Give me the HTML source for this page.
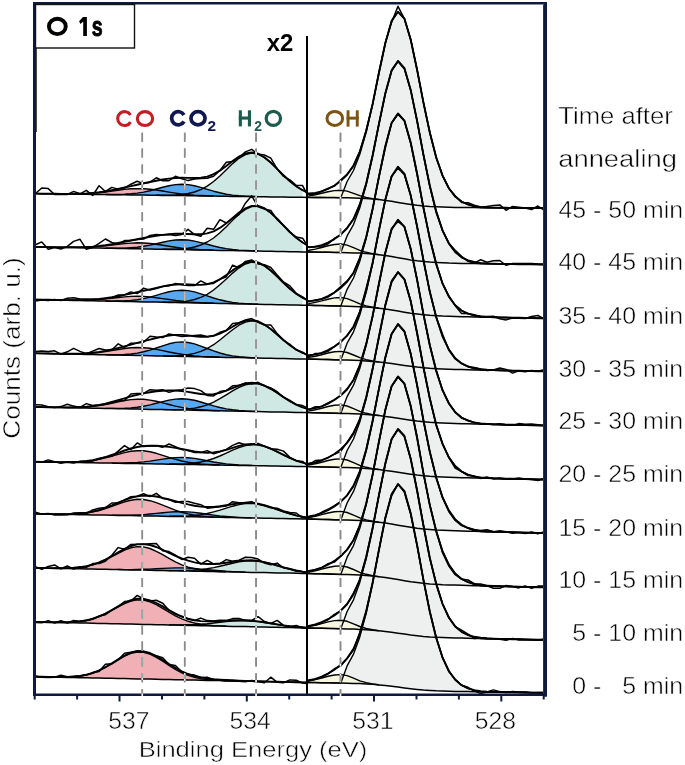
<!DOCTYPE html>
<html><head><meta charset="utf-8"><title>O 1s XPS</title><style>
html,body{margin:0;padding:0;background:#fff;overflow:hidden;width:685px;height:765px;}
svg{display:block;}
text{font-family:"Liberation Sans",sans-serif;}
.c{fill:none;stroke:#000;stroke-width:1.4;stroke-linejoin:round;}
.b{fill:none;stroke:#000;stroke-width:1.5;}
.e{fill:none;stroke:#000;stroke-width:1.9;stroke-linejoin:round;}
.d{fill:none;stroke:#000;stroke-width:1.5;stroke-linejoin:round;}
.tk{stroke:#101a40;stroke-width:2;}
.dash{stroke:#fff;stroke-width:1.5;stroke-dasharray:9 6.9;}
.dash2{stroke:#fff;stroke-width:1.5;stroke-dasharray:9 6.9;}
.big{font-size:26px;font-weight:bold;}
.x2{font-size:23px;font-weight:bold;}
.lab{font-size:22px;font-weight:bold;letter-spacing:2px;}
.sub{font-size:15px;}
.tm{font-size:23px;}
.ax{font-size:23px;}
.thin{stroke:#fff;stroke-width:0.5px;}
</style></head>
<body><svg width="685" height="765" viewBox="0 0 685 765">
<rect width="685" height="765" fill="#fff"/>
<g><path d="M156.3,195.2 162.7,195.3 169.0,195.2 175.4,195.0 181.8,194.5 188.1,193.5 194.5,192.0 200.8,189.6 207.2,186.1 213.6,181.5 219.9,176.0 226.3,169.8 232.6,163.6 239.0,158.3 245.4,154.6 251.7,153.1 258.1,154.2 264.4,157.6 270.8,162.7 277.2,168.9 283.5,175.3 289.9,181.3 296.2,186.3 302.6,190.2 302.6,197.3 296.2,197.2 289.9,197.2 283.5,197.1 277.2,197.0 270.8,196.9 264.4,196.8 258.1,196.7 251.7,196.6 245.4,196.5 239.0,196.4 232.6,196.4 226.3,196.3 219.9,196.2 213.6,196.1 207.2,196.0 200.8,195.9 194.5,195.8 188.1,195.7 181.8,195.6 175.4,195.6 169.0,195.5 162.7,195.4 156.3,195.3Z" fill="#cfe8e4"/><path d="M67.3,193.9 73.6,193.9 80.0,193.8 86.4,193.6 92.7,193.2 99.1,192.7 105.4,192.0 111.8,191.1 118.2,190.3 124.5,189.4 130.9,188.8 137.2,188.6 143.6,188.7 150.0,189.2 156.3,190.0 162.7,191.0 169.0,192.1 175.4,193.1 181.8,194.0 188.1,194.6 194.5,195.2 200.8,195.5 207.2,195.8 213.6,196.0 213.6,196.1 207.2,196.0 200.8,195.9 194.5,195.8 188.1,195.7 181.8,195.6 175.4,195.6 169.0,195.5 162.7,195.4 156.3,195.3 150.0,195.2 143.6,195.1 137.2,195.0 130.9,194.9 124.5,194.8 118.2,194.8 111.8,194.7 105.4,194.6 99.1,194.5 92.7,194.4 86.4,194.3 80.0,194.2 73.6,194.1 67.3,194.0Z" fill="#f0b0b5"/><path d="M105.4,194.5 111.8,194.5 118.2,194.5 124.5,194.3 130.9,193.8 137.2,193.1 143.6,192.1 150.0,190.7 156.3,189.0 162.7,187.3 169.0,185.7 175.4,184.6 181.8,184.2 188.1,184.6 194.5,185.7 200.8,187.4 207.2,189.3 213.6,191.2 219.9,192.8 226.3,194.2 232.6,195.1 239.0,195.8 245.4,196.2 251.7,196.5 258.1,196.6 258.1,196.7 251.7,196.6 245.4,196.5 239.0,196.4 232.6,196.4 226.3,196.3 219.9,196.2 213.6,196.1 207.2,196.0 200.8,195.9 194.5,195.8 188.1,195.7 181.8,195.6 175.4,195.6 169.0,195.5 162.7,195.4 156.3,195.3 150.0,195.2 143.6,195.1 137.2,195.0 130.9,194.9 124.5,194.8 118.2,194.8 111.8,194.7 105.4,194.6Z" fill="#58a8f0"/><path d="M307.0,197.4 309.0,197.4 315.3,197.5 321.7,197.5 328.0,197.6 334.4,197.6 340.8,197.7 347.1,181.5 353.5,170.5 359.8,154.3 366.2,132.0 372.6,104.2 378.9,73.1 385.3,43.3 391.6,20.9 398.0,11.8 404.4,18.6 410.7,39.7 417.1,69.7 423.4,102.4 429.8,132.5 436.2,157.2 442.5,175.6 448.9,188.3 455.2,196.6 461.6,201.6 468.0,204.5 474.3,206.4 480.7,207.6 487.0,207.7 493.4,207.8 499.8,207.8 506.1,207.8 512.5,207.9 518.8,207.9 525.2,208.0 531.6,208.0 537.9,208.1 544.0,208.1 544.0,208.1 537.9,208.1 531.6,208.0 525.2,208.0 518.8,207.9 512.5,207.9 506.1,207.8 499.8,207.8 493.4,207.8 487.0,207.7 480.7,207.7 474.3,207.6 468.0,207.6 461.6,207.5 455.2,207.4 448.9,207.3 442.5,207.1 436.2,206.8 429.8,206.5 423.4,206.0 417.1,205.3 410.7,204.4 404.4,203.4 398.0,202.4 391.6,201.3 385.3,200.4 378.9,199.6 372.6,199.0 366.2,198.5 359.8,198.2 353.5,198.0 347.1,197.8 340.8,197.7 334.4,197.6 328.0,197.6 321.7,197.5 315.3,197.5 309.0,197.4 307.0,197.4Z" fill="#eef0f0"/><path d="M307.0,196.2 309.0,195.9 315.3,194.8 321.7,193.3 328.0,191.8 334.4,190.6 340.8,190.2 347.1,191.1 353.5,193.3 359.8,195.7 366.2,197.5 372.6,198.6 378.9,199.5 378.9,199.6 372.6,199.0 366.2,198.5 359.8,198.2 353.5,198.0 347.1,197.8 340.8,197.7 334.4,197.6 328.0,197.6 321.7,197.5 315.3,197.5 309.0,197.4 307.0,197.4Z" fill="#f7f7e2"/><path d="M162.7,249.2 169.0,249.2 175.4,249.1 181.8,248.8 188.1,248.1 194.5,247.0 200.8,245.0 207.2,242.0 213.6,238.0 219.9,232.8 226.3,226.7 232.6,220.2 239.0,214.2 245.4,209.4 251.7,206.6 258.1,206.2 264.4,208.5 270.8,212.9 277.2,218.9 283.5,225.5 289.9,232.0 296.2,237.8 302.6,242.5 302.6,251.9 296.2,251.8 289.9,251.7 283.5,251.6 277.2,251.4 270.8,251.3 264.4,251.2 258.1,251.1 251.7,251.0 245.4,250.8 239.0,250.7 232.6,250.6 226.3,250.5 219.9,250.4 213.6,250.2 207.2,250.1 200.8,250.0 194.5,249.9 188.1,249.8 181.8,249.6 175.4,249.5 169.0,249.4 162.7,249.3Z" fill="#cfe8e4"/><path d="M67.3,247.4 73.6,247.4 80.0,247.4 86.4,247.2 92.7,246.9 99.1,246.4 105.4,245.8 111.8,245.1 118.2,244.3 124.5,243.6 130.9,243.1 137.2,242.8 143.6,243.0 150.0,243.5 156.3,244.3 162.7,245.3 169.0,246.3 175.4,247.2 181.8,248.1 188.1,248.8 194.5,249.3 200.8,249.7 207.2,249.9 213.6,250.2 213.6,250.2 207.2,250.1 200.8,250.0 194.5,249.9 188.1,249.8 181.8,249.6 175.4,249.5 169.0,249.4 162.7,249.3 156.3,249.2 150.0,249.1 143.6,248.9 137.2,248.8 130.9,248.7 124.5,248.6 118.2,248.5 111.8,248.3 105.4,248.2 99.1,248.1 92.7,248.0 86.4,247.9 80.0,247.7 73.6,247.6 67.3,247.5Z" fill="#f0b0b5"/><path d="M105.4,248.2 111.8,248.2 118.2,248.2 124.5,248.1 130.9,247.7 137.2,247.2 143.6,246.3 150.0,245.1 156.3,243.7 162.7,242.2 169.0,240.9 175.4,240.0 181.8,239.7 188.1,240.0 194.5,241.1 200.8,242.6 207.2,244.3 213.6,246.0 219.9,247.5 226.3,248.6 232.6,249.5 239.0,250.1 245.4,250.5 251.7,250.8 258.1,251.0 258.1,251.1 251.7,251.0 245.4,250.8 239.0,250.7 232.6,250.6 226.3,250.5 219.9,250.4 213.6,250.2 207.2,250.1 200.8,250.0 194.5,249.9 188.1,249.8 181.8,249.6 175.4,249.5 169.0,249.4 162.7,249.3 156.3,249.2 150.0,249.1 143.6,248.9 137.2,248.8 130.9,248.7 124.5,248.6 118.2,248.5 111.8,248.3 105.4,248.2Z" fill="#58a8f0"/><path d="M307.0,252.0 309.0,252.0 315.3,252.1 321.7,252.2 328.0,252.3 334.4,252.4 340.8,252.5 347.1,235.9 353.5,224.6 359.8,207.8 366.2,184.9 372.6,156.2 378.9,124.2 385.3,93.4 391.6,70.4 398.0,61.0 404.4,68.1 410.7,89.9 417.1,120.9 423.4,154.7 429.8,185.8 436.2,211.3 442.5,230.3 448.9,243.5 455.2,252.0 461.6,257.3 468.0,260.3 474.3,262.3 480.7,263.6 487.0,263.7 493.4,263.8 499.8,263.9 506.1,264.0 512.5,264.1 518.8,264.2 525.2,264.3 531.6,264.3 537.9,264.4 544.0,264.5 544.0,264.5 537.9,264.4 531.6,264.3 525.2,264.3 518.8,264.2 512.5,264.1 506.1,264.0 499.8,263.9 493.4,263.8 487.0,263.7 480.7,263.7 474.3,263.6 468.0,263.5 461.6,263.4 455.2,263.2 448.9,263.1 442.5,262.8 436.2,262.5 429.8,262.1 423.4,261.5 417.1,260.8 410.7,259.9 404.4,258.8 398.0,257.7 391.6,256.6 385.3,255.6 378.9,254.7 372.6,254.0 366.2,253.5 359.8,253.1 353.5,252.9 347.1,252.7 340.8,252.5 334.4,252.4 328.0,252.3 321.7,252.2 315.3,252.1 309.0,252.0 307.0,252.0Z" fill="#eef0f0"/><path d="M307.0,250.6 309.0,250.3 315.3,249.1 321.7,247.5 328.0,245.8 334.4,244.5 340.8,244.0 347.1,245.1 353.5,247.6 359.8,250.3 366.2,252.3 372.6,253.6 378.9,254.6 378.9,254.7 372.6,254.0 366.2,253.5 359.8,253.1 353.5,252.9 347.1,252.7 340.8,252.5 334.4,252.4 328.0,252.3 321.7,252.2 315.3,252.1 309.0,252.0 307.0,252.0Z" fill="#f7f7e2"/><path d="M162.7,302.2 169.0,302.2 175.4,302.0 181.8,301.6 188.1,300.9 194.5,299.5 200.8,297.4 207.2,294.3 213.6,290.0 219.9,284.8 226.3,279.0 232.6,273.1 239.0,267.8 245.4,264.0 251.7,262.2 258.1,262.9 264.4,265.9 270.8,270.7 277.2,276.6 283.5,282.9 289.9,288.8 296.2,293.8 302.6,297.8 302.6,305.2 296.2,305.1 289.9,304.9 283.5,304.8 277.2,304.7 270.8,304.5 264.4,304.4 258.1,304.3 251.7,304.1 245.4,304.0 239.0,303.9 232.6,303.7 226.3,303.6 219.9,303.5 213.6,303.3 207.2,303.2 200.8,303.1 194.5,302.9 188.1,302.8 181.8,302.7 175.4,302.5 169.0,302.4 162.7,302.3Z" fill="#cfe8e4"/><path d="M67.3,300.2 73.6,300.2 80.0,300.2 86.4,300.1 92.7,299.8 99.1,299.4 105.4,298.9 111.8,298.2 118.2,297.5 124.5,296.9 130.9,296.4 137.2,296.3 143.6,296.4 150.0,296.9 156.3,297.7 162.7,298.6 169.0,299.5 175.4,300.4 181.8,301.2 188.1,301.9 194.5,302.4 200.8,302.8 207.2,303.0 213.6,303.3 213.6,303.3 207.2,303.2 200.8,303.1 194.5,302.9 188.1,302.8 181.8,302.7 175.4,302.5 169.0,302.4 162.7,302.3 156.3,302.1 150.0,302.0 143.6,301.9 137.2,301.7 130.9,301.6 124.5,301.5 118.2,301.3 111.8,301.2 105.4,301.1 99.1,300.9 92.7,300.8 86.4,300.7 80.0,300.5 73.6,300.4 67.3,300.3Z" fill="#f0b0b5"/><path d="M105.4,301.0 111.8,301.1 118.2,301.0 124.5,300.8 130.9,300.4 137.2,299.7 143.6,298.6 150.0,297.1 156.3,295.3 162.7,293.4 169.0,291.8 175.4,290.6 181.8,290.2 188.1,290.6 194.5,291.9 200.8,293.8 207.2,295.9 213.6,298.0 219.9,299.8 226.3,301.3 232.6,302.4 239.0,303.1 245.4,303.6 251.7,304.0 258.1,304.2 258.1,304.3 251.7,304.1 245.4,304.0 239.0,303.9 232.6,303.7 226.3,303.6 219.9,303.5 213.6,303.3 207.2,303.2 200.8,303.1 194.5,302.9 188.1,302.8 181.8,302.7 175.4,302.5 169.0,302.4 162.7,302.3 156.3,302.1 150.0,302.0 143.6,301.9 137.2,301.7 130.9,301.6 124.5,301.5 118.2,301.3 111.8,301.2 105.4,301.1Z" fill="#58a8f0"/><path d="M307.0,305.3 309.0,305.3 315.3,305.5 321.7,305.6 328.0,305.7 334.4,305.9 340.8,306.0 347.1,289.3 353.5,278.0 359.8,261.2 366.2,238.2 372.6,209.4 378.9,177.1 385.3,146.2 391.6,123.0 398.0,113.5 404.4,120.6 410.7,142.4 417.1,173.5 423.4,207.4 429.8,238.6 436.2,264.3 442.5,283.4 448.9,296.7 455.2,305.3 461.6,310.6 468.0,313.6 474.3,315.7 480.7,317.1 487.0,317.2 493.4,317.3 499.8,317.5 506.1,317.6 512.5,317.7 518.8,317.8 525.2,317.9 531.6,318.1 537.9,318.2 544.0,318.3 544.0,318.3 537.9,318.2 531.6,318.1 525.2,317.9 518.8,317.8 512.5,317.7 506.1,317.6 499.8,317.5 493.4,317.3 487.0,317.2 480.7,317.1 474.3,317.0 468.0,316.8 461.6,316.7 455.2,316.5 448.9,316.3 442.5,316.1 436.2,315.7 429.8,315.3 423.4,314.7 417.1,314.0 410.7,313.2 404.4,312.2 398.0,311.1 391.6,310.1 385.3,309.1 378.9,308.3 372.6,307.6 366.2,307.1 359.8,306.7 353.5,306.4 347.1,306.2 340.8,306.0 334.4,305.9 328.0,305.7 321.7,305.6 315.3,305.5 309.0,305.3 307.0,305.3Z" fill="#eef0f0"/><path d="M307.0,303.9 309.0,303.6 315.3,302.4 321.7,300.9 328.0,299.2 334.4,297.9 340.8,297.5 347.1,298.6 353.5,301.2 359.8,303.9 366.2,305.9 372.6,307.2 378.9,308.2 378.9,308.3 372.6,307.6 366.2,307.1 359.8,306.7 353.5,306.4 347.1,306.2 340.8,306.0 334.4,305.9 328.0,305.7 321.7,305.6 315.3,305.5 309.0,305.3 307.0,305.3Z" fill="#f7f7e2"/><path d="M162.7,355.9 169.0,355.9 175.4,355.8 181.8,355.4 188.1,354.7 194.5,353.4 200.8,351.4 207.2,348.5 213.6,344.7 219.9,340.0 226.3,334.8 232.6,329.7 239.0,325.2 245.4,322.1 251.7,320.9 258.1,321.9 264.4,324.8 270.8,329.3 277.2,334.6 283.5,340.1 289.9,345.2 296.2,349.6 302.6,353.0 302.6,359.0 296.2,358.9 289.9,358.7 283.5,358.6 277.2,358.5 270.8,358.3 264.4,358.2 258.1,358.1 251.7,357.9 245.4,357.8 239.0,357.6 232.6,357.5 226.3,357.4 219.9,357.2 213.6,357.1 207.2,357.0 200.8,356.8 194.5,356.7 188.1,356.6 181.8,356.4 175.4,356.3 169.0,356.2 162.7,356.0Z" fill="#cfe8e4"/><path d="M60.9,353.8 67.3,353.8 73.6,353.8 80.0,353.8 86.4,353.5 92.7,353.1 99.1,352.5 105.4,351.6 111.8,350.6 118.2,349.5 124.5,348.5 130.9,347.8 137.2,347.5 143.6,347.7 150.0,348.3 156.3,349.4 162.7,350.6 169.0,352.0 175.4,353.2 181.8,354.3 188.1,355.2 194.5,355.9 200.8,356.4 207.2,356.7 213.6,357.0 219.9,357.2 219.9,357.2 213.6,357.1 207.2,357.0 200.8,356.8 194.5,356.7 188.1,356.6 181.8,356.4 175.4,356.3 169.0,356.2 162.7,356.0 156.3,355.9 150.0,355.7 143.6,355.6 137.2,355.5 130.9,355.3 124.5,355.2 118.2,355.1 111.8,354.9 105.4,354.8 99.1,354.7 92.7,354.5 86.4,354.4 80.0,354.3 73.6,354.1 67.3,354.0 60.9,353.8Z" fill="#f0b0b5"/><path d="M105.4,354.7 111.8,354.8 118.2,354.7 124.5,354.5 130.9,354.0 137.2,353.1 143.6,351.8 150.0,350.1 156.3,348.0 162.7,345.8 169.0,343.8 175.4,342.4 181.8,341.9 188.1,342.5 194.5,343.9 200.8,346.1 207.2,348.5 213.6,350.9 219.9,353.0 226.3,354.7 232.6,355.9 239.0,356.8 245.4,357.3 251.7,357.7 258.1,358.0 258.1,358.1 251.7,357.9 245.4,357.8 239.0,357.6 232.6,357.5 226.3,357.4 219.9,357.2 213.6,357.1 207.2,357.0 200.8,356.8 194.5,356.7 188.1,356.6 181.8,356.4 175.4,356.3 169.0,356.2 162.7,356.0 156.3,355.9 150.0,355.7 143.6,355.6 137.2,355.5 130.9,355.3 124.5,355.2 118.2,355.1 111.8,354.9 105.4,354.8Z" fill="#58a8f0"/><path d="M307.0,359.1 309.0,359.1 315.3,359.3 321.7,359.4 328.0,359.5 334.4,359.7 340.8,359.9 347.1,343.2 353.5,331.8 359.8,315.0 366.2,292.0 372.6,263.1 378.9,230.8 385.3,199.8 391.6,176.5 398.0,166.8 404.4,173.8 410.7,195.5 417.1,226.5 423.4,260.3 429.8,291.6 436.2,317.1 442.5,336.3 448.9,349.5 455.2,358.2 461.6,363.4 468.0,366.5 474.3,368.6 480.7,370.0 487.0,370.1 493.4,370.3 499.8,370.4 506.1,370.5 512.5,370.7 518.8,370.8 525.2,370.9 531.6,371.0 537.9,371.2 544.0,371.3 544.0,371.3 537.9,371.2 531.6,371.0 525.2,370.9 518.8,370.8 512.5,370.7 506.1,370.5 499.8,370.4 493.4,370.3 487.0,370.1 480.7,370.0 474.3,369.9 468.0,369.7 461.6,369.6 455.2,369.4 448.9,369.2 442.5,369.0 436.2,368.7 429.8,368.3 423.4,367.7 417.1,367.1 410.7,366.3 404.4,365.4 398.0,364.5 391.6,363.6 385.3,362.7 378.9,362.0 372.6,361.4 366.2,360.9 359.8,360.5 353.5,360.3 347.1,360.0 340.8,359.9 334.4,359.7 328.0,359.5 321.7,359.4 315.3,359.3 309.0,359.1 307.0,359.1Z" fill="#eef0f0"/><path d="M307.0,357.7 309.0,357.4 315.3,356.3 321.7,354.7 328.0,353.0 334.4,351.8 340.8,351.4 347.1,352.5 353.5,355.0 359.8,357.7 366.2,359.7 372.6,361.0 378.9,361.9 378.9,362.0 372.6,361.4 366.2,360.9 359.8,360.5 353.5,360.3 347.1,360.0 340.8,359.9 334.4,359.7 328.0,359.5 321.7,359.4 315.3,359.3 309.0,359.1 307.0,359.1Z" fill="#f7f7e2"/><path d="M162.7,409.6 169.0,409.6 175.4,409.6 181.8,409.4 188.1,408.9 194.5,408.1 200.8,406.8 207.2,404.8 213.6,402.1 219.9,398.7 226.3,394.8 232.6,390.9 239.0,387.4 245.4,384.8 251.7,383.6 258.1,383.9 264.4,385.8 270.8,389.0 277.2,393.0 283.5,397.2 289.9,401.2 296.2,404.6 302.6,407.4 302.6,412.5 296.2,412.4 289.9,412.2 283.5,412.1 277.2,412.0 270.8,411.9 264.4,411.7 258.1,411.6 251.7,411.5 245.4,411.3 239.0,411.2 232.6,411.1 226.3,410.9 219.9,410.8 213.6,410.7 207.2,410.5 200.8,410.4 194.5,410.3 188.1,410.1 181.8,410.0 175.4,409.9 169.0,409.8 162.7,409.6Z" fill="#cfe8e4"/><path d="M60.9,407.4 67.3,407.5 73.6,407.5 80.0,407.3 86.4,407.0 92.7,406.4 99.1,405.6 105.4,404.5 111.8,403.2 118.2,401.8 124.5,400.5 130.9,399.6 137.2,399.2 143.6,399.3 150.0,400.1 156.3,401.3 162.7,402.9 169.0,404.5 175.4,406.1 181.8,407.4 188.1,408.5 194.5,409.3 200.8,409.8 207.2,410.2 213.6,410.5 219.9,410.7 219.9,410.8 213.6,410.7 207.2,410.5 200.8,410.4 194.5,410.3 188.1,410.1 181.8,410.0 175.4,409.9 169.0,409.8 162.7,409.6 156.3,409.5 150.0,409.4 143.6,409.2 137.2,409.1 130.9,409.0 124.5,408.8 118.2,408.7 111.8,408.6 105.4,408.4 99.1,408.3 92.7,408.2 86.4,408.0 80.0,407.9 73.6,407.8 67.3,407.7 60.9,407.5Z" fill="#f0b0b5"/><path d="M105.4,408.4 111.8,408.4 118.2,408.4 124.5,408.3 130.9,407.9 137.2,407.3 143.6,406.3 150.0,404.9 156.3,403.3 162.7,401.6 169.0,400.1 175.4,399.1 181.8,398.7 188.1,399.2 194.5,400.3 200.8,402.0 207.2,404.0 213.6,405.9 219.9,407.5 226.3,408.9 232.6,409.8 239.0,410.5 245.4,411.0 251.7,411.3 258.1,411.5 258.1,411.6 251.7,411.5 245.4,411.3 239.0,411.2 232.6,411.1 226.3,410.9 219.9,410.8 213.6,410.7 207.2,410.5 200.8,410.4 194.5,410.3 188.1,410.1 181.8,410.0 175.4,409.9 169.0,409.8 162.7,409.6 156.3,409.5 150.0,409.4 143.6,409.2 137.2,409.1 130.9,409.0 124.5,408.8 118.2,408.7 111.8,408.6 105.4,408.4Z" fill="#58a8f0"/><path d="M307.0,412.6 309.0,412.6 315.3,412.8 321.7,412.9 328.0,413.1 334.4,413.2 340.8,413.4 347.1,396.6 353.5,385.2 359.8,368.4 366.2,345.3 372.6,316.3 378.9,283.9 385.3,252.8 391.6,229.4 398.0,219.8 404.4,226.8 410.7,248.7 417.1,279.9 423.4,313.9 429.8,345.3 436.2,371.0 442.5,390.2 448.9,403.5 455.2,412.2 461.6,417.5 468.0,420.6 474.3,422.7 480.7,424.1 487.0,424.3 493.4,424.4 499.8,424.5 506.1,424.7 512.5,424.8 518.8,425.0 525.2,425.1 531.6,425.2 537.9,425.4 544.0,425.5 544.0,425.5 537.9,425.4 531.6,425.2 525.2,425.1 518.8,425.0 512.5,424.8 506.1,424.7 499.8,424.5 493.4,424.4 487.0,424.3 480.7,424.1 474.3,424.0 468.0,423.8 461.6,423.7 455.2,423.5 448.9,423.3 442.5,423.0 436.2,422.7 429.8,422.3 423.4,421.7 417.1,421.1 410.7,420.2 404.4,419.3 398.0,418.3 391.6,417.3 385.3,416.4 378.9,415.6 372.6,415.0 366.2,414.5 359.8,414.1 353.5,413.8 347.1,413.6 340.8,413.4 334.4,413.2 328.0,413.1 321.7,412.9 315.3,412.8 309.0,412.6 307.0,412.6Z" fill="#eef0f0"/><path d="M307.0,411.2 309.0,410.9 315.3,409.8 321.7,408.2 328.0,406.5 334.4,405.3 340.8,404.9 347.1,406.0 353.5,408.6 359.8,411.3 366.2,413.3 372.6,414.6 378.9,415.5 378.9,415.6 372.6,415.0 366.2,414.5 359.8,414.1 353.5,413.8 347.1,413.6 340.8,413.4 334.4,413.2 328.0,413.1 321.7,412.9 315.3,412.8 309.0,412.6 307.0,412.6Z" fill="#f7f7e2"/><path d="M169.0,464.0 175.4,464.0 181.8,463.9 188.1,463.6 194.5,463.0 200.8,462.0 207.2,460.5 213.6,458.5 219.9,456.0 226.3,453.1 232.6,450.2 239.0,447.5 245.4,445.6 251.7,444.7 258.1,445.0 264.4,446.4 270.8,448.8 277.2,451.8 283.5,455.0 289.9,458.0 296.2,460.6 302.6,462.7 302.6,466.5 296.2,466.4 289.9,466.3 283.5,466.2 277.2,466.1 270.8,466.0 264.4,465.8 258.1,465.7 251.7,465.6 245.4,465.5 239.0,465.4 232.6,465.3 226.3,465.2 219.9,465.1 213.6,464.9 207.2,464.8 200.8,464.7 194.5,464.6 188.1,464.5 181.8,464.4 175.4,464.3 169.0,464.2Z" fill="#cfe8e4"/><path d="M60.9,462.1 67.3,462.1 73.6,462.0 80.0,461.8 86.4,461.3 92.7,460.5 99.1,459.3 105.4,457.9 111.8,456.1 118.2,454.3 124.5,452.6 130.9,451.3 137.2,450.7 143.6,450.8 150.0,451.8 156.3,453.3 162.7,455.3 169.0,457.4 175.4,459.3 181.8,461.0 188.1,462.3 194.5,463.3 200.8,464.0 207.2,464.4 213.6,464.7 219.9,465.0 219.9,465.1 213.6,464.9 207.2,464.8 200.8,464.7 194.5,464.6 188.1,464.5 181.8,464.4 175.4,464.3 169.0,464.2 162.7,464.0 156.3,463.9 150.0,463.8 143.6,463.7 137.2,463.6 130.9,463.5 124.5,463.4 118.2,463.3 111.8,463.1 105.4,463.0 99.1,462.9 92.7,462.8 86.4,462.7 80.0,462.6 73.6,462.5 67.3,462.4 60.9,462.2Z" fill="#f0b0b5"/><path d="M111.8,463.1 118.2,463.1 124.5,463.0 130.9,462.8 137.2,462.5 143.6,461.9 150.0,461.1 156.3,460.1 162.7,459.1 169.0,458.2 175.4,457.6 181.8,457.4 188.1,457.7 194.5,458.4 200.8,459.5 207.2,460.8 213.6,462.0 219.9,463.0 226.3,463.9 232.6,464.5 239.0,465.0 245.4,465.3 251.7,465.5 251.7,465.6 245.4,465.5 239.0,465.4 232.6,465.3 226.3,465.2 219.9,465.1 213.6,464.9 207.2,464.8 200.8,464.7 194.5,464.6 188.1,464.5 181.8,464.4 175.4,464.3 169.0,464.2 162.7,464.0 156.3,463.9 150.0,463.8 143.6,463.7 137.2,463.6 130.9,463.5 124.5,463.4 118.2,463.3 111.8,463.1Z" fill="#58a8f0"/><path d="M307.0,466.6 309.0,466.6 315.3,466.8 321.7,466.9 328.0,467.1 334.4,467.2 340.8,467.4 347.1,450.5 353.5,439.0 359.8,422.0 366.2,398.7 372.6,369.5 378.9,336.8 385.3,305.5 391.6,281.9 398.0,272.2 404.4,279.3 410.7,301.3 417.1,332.8 423.4,367.0 429.8,398.6 436.2,424.6 442.5,443.9 448.9,457.4 455.2,466.1 461.6,471.5 468.0,474.6 474.3,476.7 480.7,478.1 487.0,478.3 493.4,478.4 499.8,478.5 506.1,478.7 512.5,478.8 518.8,479.0 525.2,479.1 531.6,479.2 537.9,479.4 544.0,479.5 544.0,479.5 537.9,479.4 531.6,479.2 525.2,479.1 518.8,479.0 512.5,478.8 506.1,478.7 499.8,478.5 493.4,478.4 487.0,478.3 480.7,478.1 474.3,478.0 468.0,477.8 461.6,477.7 455.2,477.5 448.9,477.3 442.5,477.0 436.2,476.7 429.8,476.3 423.4,475.7 417.1,475.1 410.7,474.2 404.4,473.3 398.0,472.3 391.6,471.3 385.3,470.4 378.9,469.6 372.6,469.0 366.2,468.5 359.8,468.1 353.5,467.8 347.1,467.6 340.8,467.4 334.4,467.2 328.0,467.1 321.7,466.9 315.3,466.8 309.0,466.6 307.0,466.6Z" fill="#eef0f0"/><path d="M307.0,465.2 309.0,464.9 315.3,463.8 321.7,462.2 328.0,460.5 334.4,459.3 340.8,458.9 347.1,460.0 353.5,462.6 359.8,465.3 366.2,467.3 372.6,468.6 378.9,469.5 378.9,469.6 372.6,469.0 366.2,468.5 359.8,468.1 353.5,467.8 347.1,467.6 340.8,467.4 334.4,467.2 328.0,467.1 321.7,466.9 315.3,466.8 309.0,466.6 307.0,466.6Z" fill="#f7f7e2"/><path d="M169.0,516.2 175.4,516.2 181.8,516.1 188.1,515.9 194.5,515.4 200.8,514.6 207.2,513.5 213.6,511.9 219.9,510.1 226.3,508.1 232.6,506.2 239.0,504.6 245.4,503.6 251.7,503.4 258.1,504.1 264.4,505.5 270.8,507.4 277.2,509.6 283.5,511.8 289.9,513.8 296.2,515.5 302.6,516.8 302.6,518.9 296.2,518.8 289.9,518.7 283.5,518.6 277.2,518.4 270.8,518.3 264.4,518.2 258.1,518.1 251.7,517.9 245.4,517.8 239.0,517.7 232.6,517.6 226.3,517.5 219.9,517.3 213.6,517.2 207.2,517.1 200.8,517.0 194.5,516.8 188.1,516.7 181.8,516.6 175.4,516.5 169.0,516.4Z" fill="#cfe8e4"/><path d="M54.6,514.1 60.9,514.2 67.3,514.1 73.6,514.0 80.0,513.6 86.4,513.0 92.7,511.9 99.1,510.5 105.4,508.6 111.8,506.3 118.2,504.0 124.5,501.8 130.9,500.2 137.2,499.3 143.6,499.5 150.0,500.7 156.3,502.7 162.7,505.1 169.0,507.7 175.4,510.2 181.8,512.3 188.1,513.9 194.5,515.2 200.8,516.0 207.2,516.6 213.6,517.0 219.9,517.2 226.3,517.4 226.3,517.5 219.9,517.3 213.6,517.2 207.2,517.1 200.8,517.0 194.5,516.8 188.1,516.7 181.8,516.6 175.4,516.5 169.0,516.4 162.7,516.2 156.3,516.1 150.0,516.0 143.6,515.9 137.2,515.7 130.9,515.6 124.5,515.5 118.2,515.4 111.8,515.3 105.4,515.1 99.1,515.0 92.7,514.9 86.4,514.8 80.0,514.7 73.6,514.5 67.3,514.4 60.9,514.3 54.6,514.2Z" fill="#f0b0b5"/><path d="M111.8,515.2 118.2,515.3 124.5,515.2 130.9,515.2 137.2,514.9 143.6,514.6 150.0,514.0 156.3,513.4 162.7,512.7 169.0,512.1 175.4,511.7 181.8,511.6 188.1,511.9 194.5,512.4 200.8,513.3 207.2,514.2 213.6,515.1 219.9,515.9 226.3,516.5 232.6,517.0 239.0,517.4 245.4,517.7 251.7,517.9 251.7,517.9 245.4,517.8 239.0,517.7 232.6,517.6 226.3,517.5 219.9,517.3 213.6,517.2 207.2,517.1 200.8,517.0 194.5,516.8 188.1,516.7 181.8,516.6 175.4,516.5 169.0,516.4 162.7,516.2 156.3,516.1 150.0,516.0 143.6,515.9 137.2,515.7 130.9,515.6 124.5,515.5 118.2,515.4 111.8,515.3Z" fill="#58a8f0"/><path d="M307.0,519.0 309.0,519.0 315.3,519.2 321.7,519.4 328.0,519.5 334.4,519.7 340.8,519.9 347.1,502.9 353.5,491.4 359.8,474.4 366.2,451.0 372.6,421.7 378.9,389.0 385.3,357.5 391.6,334.0 398.0,324.3 404.4,331.5 410.7,353.7 417.1,385.3 423.4,419.8 429.8,451.6 436.2,477.6 442.5,497.1 448.9,510.6 455.2,519.4 461.6,524.8 468.0,528.0 474.3,530.0 480.7,531.5 487.0,531.7 493.4,531.8 499.8,532.0 506.1,532.1 512.5,532.3 518.8,532.4 525.2,532.6 531.6,532.7 537.9,532.9 544.0,533.0 544.0,533.0 537.9,532.9 531.6,532.7 525.2,532.6 518.8,532.4 512.5,532.3 506.1,532.1 499.8,532.0 493.4,531.8 487.0,531.7 480.7,531.5 474.3,531.3 468.0,531.2 461.6,531.0 455.2,530.8 448.9,530.6 442.5,530.3 436.2,530.0 429.8,529.5 423.4,528.9 417.1,528.2 410.7,527.3 404.4,526.3 398.0,525.2 391.6,524.1 385.3,523.1 378.9,522.3 372.6,521.6 366.2,521.1 359.8,520.6 353.5,520.3 347.1,520.1 340.8,519.9 334.4,519.7 328.0,519.5 321.7,519.4 315.3,519.2 309.0,519.0 307.0,519.0Z" fill="#eef0f0"/><path d="M307.0,517.6 309.0,517.4 315.3,516.2 321.7,514.6 328.0,513.0 334.4,511.7 340.8,511.4 347.1,512.5 353.5,515.1 359.8,517.8 366.2,519.9 372.6,521.2 378.9,522.2 378.9,522.3 372.6,521.6 366.2,521.1 359.8,520.6 353.5,520.3 347.1,520.1 340.8,519.9 334.4,519.7 328.0,519.5 321.7,519.4 315.3,519.2 309.0,519.0 307.0,519.0Z" fill="#f7f7e2"/><path d="M169.0,570.6 175.4,570.6 181.8,570.6 188.1,570.4 194.5,570.1 200.8,569.6 207.2,568.7 213.6,567.6 219.9,566.2 226.3,564.7 232.6,563.2 239.0,561.9 245.4,561.1 251.7,560.9 258.1,561.3 264.4,562.3 270.8,563.8 277.2,565.6 283.5,567.4 289.9,569.1 296.2,570.5 302.6,571.6 302.6,573.4 296.2,573.3 289.9,573.1 283.5,573.0 277.2,572.9 270.8,572.8 264.4,572.6 258.1,572.5 251.7,572.4 245.4,572.2 239.0,572.1 232.6,572.0 226.3,571.8 219.9,571.7 213.6,571.6 207.2,571.4 200.8,571.3 194.5,571.2 188.1,571.0 181.8,570.9 175.4,570.8 169.0,570.7Z" fill="#cfe8e4"/><path d="M54.6,568.2 60.9,568.2 67.3,568.2 73.6,567.9 80.0,567.3 86.4,566.4 92.7,564.9 99.1,562.7 105.4,560.0 111.8,556.7 118.2,553.3 124.5,550.2 130.9,547.8 137.2,546.6 143.6,546.9 150.0,548.5 156.3,551.3 162.7,554.7 169.0,558.4 175.4,561.8 181.8,564.8 188.1,567.1 194.5,568.8 200.8,570.0 207.2,570.7 213.6,571.2 219.9,571.5 226.3,571.8 226.3,571.8 219.9,571.7 213.6,571.6 207.2,571.4 200.8,571.3 194.5,571.2 188.1,571.0 181.8,570.9 175.4,570.8 169.0,570.7 162.7,570.5 156.3,570.4 150.0,570.3 143.6,570.1 137.2,570.0 130.9,569.9 124.5,569.7 118.2,569.6 111.8,569.5 105.4,569.3 99.1,569.2 92.7,569.1 86.4,568.9 80.0,568.8 73.6,568.7 67.3,568.6 60.9,568.4 54.6,568.3Z" fill="#f0b0b5"/><path d="M118.2,569.5 124.5,569.6 130.9,569.6 137.2,569.5 143.6,569.3 150.0,569.1 156.3,568.8 162.7,568.4 169.0,568.1 175.4,567.9 181.8,567.9 188.1,568.1 194.5,568.5 200.8,569.1 207.2,569.7 213.6,570.3 219.9,570.8 226.3,571.3 232.6,571.6 239.0,571.9 245.4,572.1 245.4,572.2 239.0,572.1 232.6,572.0 226.3,571.8 219.9,571.7 213.6,571.6 207.2,571.4 200.8,571.3 194.5,571.2 188.1,571.0 181.8,570.9 175.4,570.8 169.0,570.7 162.7,570.5 156.3,570.4 150.0,570.3 143.6,570.1 137.2,570.0 130.9,569.9 124.5,569.7 118.2,569.6Z" fill="#58a8f0"/><path d="M307.0,573.5 309.0,573.5 315.3,573.7 321.7,573.8 328.0,574.0 334.4,574.2 340.8,574.4 347.1,557.2 353.5,545.6 359.8,528.3 366.2,504.7 372.6,475.1 378.9,441.9 385.3,410.2 391.6,386.3 398.0,376.5 404.4,383.7 410.7,406.1 417.1,438.1 423.4,472.9 429.8,505.1 436.2,531.4 442.5,551.1 448.9,564.7 455.2,573.6 461.6,579.0 468.0,582.2 474.3,584.3 480.7,585.8 487.0,586.0 493.4,586.1 499.8,586.3 506.1,586.4 512.5,586.6 518.8,586.7 525.2,586.9 531.6,587.0 537.9,587.2 544.0,587.3 544.0,587.3 537.9,587.2 531.6,587.0 525.2,586.9 518.8,586.7 512.5,586.6 506.1,586.4 499.8,586.3 493.4,586.1 487.0,586.0 480.7,585.8 474.3,585.7 468.0,585.5 461.6,585.3 455.2,585.1 448.9,584.9 442.5,584.7 436.2,584.3 429.8,583.9 423.4,583.3 417.1,582.5 410.7,581.7 404.4,580.7 398.0,579.6 391.6,578.5 385.3,577.6 378.9,576.7 372.6,576.1 366.2,575.5 359.8,575.1 353.5,574.8 347.1,574.6 340.8,574.4 334.4,574.2 328.0,574.0 321.7,573.8 315.3,573.7 309.0,573.5 307.0,573.5Z" fill="#eef0f0"/><path d="M307.0,572.1 309.0,571.9 315.3,570.7 321.7,569.1 328.0,567.5 334.4,566.2 340.8,565.9 347.1,567.0 353.5,569.5 359.8,572.3 366.2,574.3 372.6,575.7 378.9,576.6 378.9,576.7 372.6,576.1 366.2,575.5 359.8,575.1 353.5,574.8 347.1,574.6 340.8,574.4 334.4,574.2 328.0,574.0 321.7,573.8 315.3,573.7 309.0,573.5 307.0,573.5Z" fill="#f7f7e2"/><path d="M169.0,624.9 175.4,624.9 181.8,624.9 188.1,624.8 194.5,624.6 200.8,624.2 207.2,623.7 213.6,623.0 219.9,622.3 226.3,621.6 232.6,621.0 239.0,620.7 245.4,620.6 251.7,621.0 258.1,621.6 264.4,622.5 270.8,623.5 277.2,624.5 283.5,625.4 289.9,626.2 296.2,626.9 302.6,627.4 302.6,627.9 296.2,627.8 289.9,627.6 283.5,627.5 277.2,627.3 270.8,627.2 264.4,627.1 258.1,626.9 251.7,626.8 245.4,626.6 239.0,626.5 232.6,626.4 226.3,626.2 219.9,626.1 213.6,625.9 207.2,625.8 200.8,625.7 194.5,625.5 188.1,625.4 181.8,625.2 175.4,625.1 169.0,625.0Z" fill="#cfe8e4"/><path d="M54.6,622.3 60.9,622.4 67.3,622.3 73.6,622.0 80.0,621.5 86.4,620.5 92.7,618.9 99.1,616.7 105.4,613.8 111.8,610.4 118.2,606.9 124.5,603.6 130.9,601.1 137.2,599.9 143.6,600.1 150.0,601.8 156.3,604.7 162.7,608.3 169.0,612.2 175.4,615.8 181.8,618.8 188.1,621.3 194.5,623.0 200.8,624.2 207.2,625.0 213.6,625.6 219.9,625.9 226.3,626.1 226.3,626.2 219.9,626.1 213.6,625.9 207.2,625.8 200.8,625.7 194.5,625.5 188.1,625.4 181.8,625.2 175.4,625.1 169.0,625.0 162.7,624.8 156.3,624.7 150.0,624.5 143.6,624.4 137.2,624.2 130.9,624.1 124.5,624.0 118.2,623.8 111.8,623.7 105.4,623.5 99.1,623.4 92.7,623.3 86.4,623.1 80.0,623.0 73.6,622.8 67.3,622.7 60.9,622.6 54.6,622.4Z" fill="#f0b0b5"/><path d="M307.0,628.0 309.0,628.0 315.3,628.2 321.7,628.3 328.0,628.4 334.4,628.6 340.8,628.7 347.1,611.5 353.5,599.8 359.8,582.4 366.2,558.6 372.6,528.8 378.9,495.5 385.3,463.4 391.6,439.3 398.0,429.3 404.4,436.4 410.7,458.8 417.1,490.8 423.4,525.6 429.8,557.7 436.2,584.1 442.5,603.8 448.9,617.5 455.2,626.4 461.6,631.8 468.0,635.0 474.3,637.1 480.7,638.5 487.0,638.7 493.4,638.8 499.8,638.9 506.1,639.0 512.5,639.2 518.8,639.3 525.2,639.4 531.6,639.6 537.9,639.7 544.0,639.8 544.0,639.8 537.9,639.7 531.6,639.6 525.2,639.4 518.8,639.3 512.5,639.2 506.1,639.0 499.8,638.9 493.4,638.8 487.0,638.7 480.7,638.5 474.3,638.4 468.0,638.3 461.6,638.1 455.2,638.0 448.9,637.8 442.5,637.5 436.2,637.2 429.8,636.9 423.4,636.4 417.1,635.7 410.7,635.0 404.4,634.1 398.0,633.2 391.6,632.3 385.3,631.5 378.9,630.8 372.6,630.2 366.2,629.7 359.8,629.4 353.5,629.1 347.1,628.9 340.8,628.7 334.4,628.6 328.0,628.4 321.7,628.3 315.3,628.2 309.0,628.0 307.0,628.0Z" fill="#eef0f0"/><path d="M307.0,626.6 309.0,626.3 315.3,625.2 321.7,623.6 328.0,621.9 334.4,620.6 340.8,620.2 347.1,621.3 353.5,623.9 359.8,626.5 366.2,628.5 372.6,629.8 378.9,630.7 378.9,630.8 372.6,630.2 366.2,629.7 359.8,629.4 353.5,629.1 347.1,628.9 340.8,628.7 334.4,628.6 328.0,628.4 321.7,628.3 315.3,628.2 309.0,628.0 307.0,628.0Z" fill="#f7f7e2"/><path d="M54.6,677.0 60.9,677.0 67.3,676.9 73.6,676.6 80.0,676.0 86.4,674.8 92.7,673.1 99.1,670.6 105.4,667.4 111.8,663.7 118.2,659.8 124.5,656.2 130.9,653.4 137.2,652.0 143.6,652.3 150.0,654.1 156.3,657.3 162.7,661.2 169.0,665.5 175.4,669.4 181.8,672.8 188.1,675.4 194.5,677.4 200.8,678.7 207.2,679.5 213.6,680.1 219.9,680.4 226.3,680.7 226.3,680.8 219.9,680.6 213.6,680.5 207.2,680.4 200.8,680.2 194.5,680.1 188.1,680.0 181.8,679.8 175.4,679.7 169.0,679.6 162.7,679.4 156.3,679.3 150.0,679.1 143.6,679.0 137.2,678.9 130.9,678.7 124.5,678.6 118.2,678.5 111.8,678.3 105.4,678.2 99.1,678.1 92.7,677.9 86.4,677.8 80.0,677.7 73.6,677.5 67.3,677.4 60.9,677.2 54.6,677.1Z" fill="#f0b0b5"/><path d="M307.0,682.5 309.0,682.5 315.3,682.6 321.7,682.7 328.0,682.8 334.4,682.9 340.8,683.1 347.1,665.9 353.5,654.2 359.8,636.9 366.2,613.1 372.6,583.4 378.9,550.2 385.3,518.2 391.6,494.2 398.0,484.2 404.4,491.1 410.7,513.3 417.1,545.1 423.4,579.7 429.8,611.7 436.2,637.9 442.5,657.5 448.9,671.0 455.2,679.8 461.6,685.2 468.0,688.4 474.3,690.4 480.7,691.8 487.0,691.9 493.4,692.0 499.8,692.1 506.1,692.2 512.5,692.3 518.8,692.4 525.2,692.5 531.6,692.6 537.9,692.7 544.0,692.8 544.0,692.8 537.9,692.7 531.6,692.6 525.2,692.5 518.8,692.4 512.5,692.3 506.1,692.2 499.8,692.1 493.4,692.0 487.0,691.9 480.7,691.8 474.3,691.7 468.0,691.6 461.6,691.5 455.2,691.4 448.9,691.2 442.5,691.0 436.2,690.8 429.8,690.4 423.4,690.0 417.1,689.4 410.7,688.7 404.4,687.9 398.0,687.1 391.6,686.3 385.3,685.5 378.9,684.9 372.6,684.3 366.2,683.9 359.8,683.6 353.5,683.4 347.1,683.2 340.8,683.1 334.4,682.9 328.0,682.8 321.7,682.7 315.3,682.6 309.0,682.5 307.0,682.5Z" fill="#eef0f0"/><path d="M307.0,681.1 309.0,680.8 315.3,679.6 321.7,678.0 328.0,676.3 334.4,675.0 340.8,674.6 347.1,675.6 353.5,678.1 359.8,680.8 366.2,682.7 372.6,683.9 378.9,684.8 378.9,684.9 372.6,684.3 366.2,683.9 359.8,683.6 353.5,683.4 347.1,683.2 340.8,683.1 334.4,682.9 328.0,682.8 321.7,682.7 315.3,682.6 309.0,682.5 307.0,682.5Z" fill="#f7f7e2"/></g>
<g><path d="M156.3,195.2 162.7,195.3 169.0,195.2 175.4,195.0 181.8,194.5 188.1,193.5 194.5,192.0 200.8,189.6 207.2,186.1 213.6,181.5 219.9,176.0 226.3,169.8 232.6,163.6 239.0,158.3 245.4,154.6 251.7,153.1 258.1,154.2 264.4,157.6 270.8,162.7 277.2,168.9 283.5,175.3 289.9,181.3 296.2,186.3 302.6,190.2" class="c"/><path d="M67.3,193.9 73.6,193.9 80.0,193.8 86.4,193.6 92.7,193.2 99.1,192.7 105.4,192.0 111.8,191.1 118.2,190.3 124.5,189.4 130.9,188.8 137.2,188.6 143.6,188.7 150.0,189.2 156.3,190.0 162.7,191.0 169.0,192.1 175.4,193.1 181.8,194.0 188.1,194.6 194.5,195.2 200.8,195.5 207.2,195.8 213.6,196.0" class="c"/><path d="M105.4,194.5 111.8,194.5 118.2,194.5 124.5,194.3 130.9,193.8 137.2,193.1 143.6,192.1 150.0,190.7 156.3,189.0 162.7,187.3 169.0,185.7 175.4,184.6 181.8,184.2 188.1,184.6 194.5,185.7 200.8,187.4 207.2,189.3 213.6,191.2 219.9,192.8 226.3,194.2 232.6,195.1 239.0,195.8 245.4,196.2 251.7,196.5 258.1,196.6" class="c"/><path d="M35.5,193.6 41.8,193.7 48.2,193.8 54.6,193.9 60.9,194.0 67.3,194.0 73.6,194.1 80.0,194.2 86.4,194.3 92.7,194.4 99.1,194.5 105.4,194.6 111.8,194.7 118.2,194.8 124.5,194.8 130.9,194.9 137.2,195.0 143.6,195.1 150.0,195.2 156.3,195.3 162.7,195.4 169.0,195.5 175.4,195.6 181.8,195.6 188.1,195.7 194.5,195.8 200.8,195.9 207.2,196.0 213.6,196.1 219.9,196.2 226.3,196.3 232.6,196.4 239.0,196.4 245.4,196.5 251.7,196.6 258.1,196.7 264.4,196.8 270.8,196.9 277.2,197.0 283.5,197.1 289.9,197.2 296.2,197.2 302.6,197.3 307.0,197.4" class="b"/><path d="M35.5,193.6 41.8,193.7 48.2,193.8 54.6,193.8 60.9,193.9 67.3,193.9 73.6,193.8 80.0,193.7 86.4,193.4 92.7,192.9 99.1,192.3 105.4,191.4 111.8,190.2 118.2,188.9 124.5,187.5 130.9,186.1 137.2,184.7 143.6,183.3 150.0,182.0 156.3,180.7 162.7,179.5 169.0,178.6 175.4,178.0 181.8,177.8 188.1,177.9 194.5,178.0 200.8,177.7 207.2,176.6 213.6,174.2 219.9,170.7 226.3,166.1 232.6,161.1 239.0,156.6 245.4,153.5 251.7,152.4 258.1,153.7 264.4,157.3 270.8,162.5 277.2,168.8 283.5,175.3 289.9,181.2 296.2,186.3 302.6,190.2 307.0,192.3" class="e"/><path d="M35.5,193.5 41.8,188.0 48.2,188.6 54.6,194.5 60.9,194.3 67.3,194.6 73.6,191.4 80.0,193.8 86.4,190.3 92.7,195.5 99.1,185.7 105.4,191.5 111.8,187.4 118.2,189.1 124.5,188.1 130.9,184.2 137.2,181.2 143.6,183.6 150.0,182.2 156.3,177.8 162.7,180.7 169.0,180.7 175.4,176.3 181.8,178.7 188.1,180.6 194.5,179.1 200.8,178.4 207.2,178.3 213.6,176.3 219.9,170.5 226.3,162.3 232.6,161.4 239.0,157.7 245.4,151.9 251.7,149.4 258.1,154.1 264.4,155.0 270.8,158.2 277.2,169.1 283.5,176.4 289.9,179.8 296.2,185.2 302.6,185.6 307.0,194.1" class="d"/><path d="M307.0,196.2 309.0,195.9 315.3,194.8 321.7,193.3 328.0,191.8 334.4,190.6 340.8,190.2 347.1,191.1 353.5,193.3 359.8,195.7 366.2,197.5 372.6,198.6 378.9,199.5" class="c"/><path d="M307.0,197.4 309.0,197.4 315.3,197.5 321.7,197.5 328.0,197.6 334.4,197.6 340.8,197.7 347.1,181.5 353.5,170.5 359.8,154.3 366.2,132.0 372.6,104.2 378.9,73.1 385.3,43.3 391.6,20.9 398.0,11.8 404.4,18.6 410.7,39.7 417.1,69.7 423.4,102.4 429.8,132.5 436.2,157.2 442.5,175.6 448.9,188.3 455.2,196.6 461.6,201.6 468.0,204.5 474.3,206.4 480.7,207.6 487.0,207.7 493.4,207.8 499.8,207.8 506.1,207.8 512.5,207.9 518.8,207.9 525.2,208.0 531.6,208.0 537.9,208.1 544.0,208.1" class="c"/><path d="M307.0,197.4 309.0,197.4 315.3,197.5 321.7,197.5 328.0,197.6 334.4,197.6 340.8,197.7 347.1,197.8 353.5,198.0 359.8,198.2 366.2,198.5 372.6,199.0 378.9,199.6 385.3,200.4 391.6,201.3 398.0,202.4 404.4,203.4 410.7,204.4 417.1,205.3 423.4,206.0 429.8,206.5 436.2,206.8 442.5,207.1 448.9,207.3 455.2,207.4 461.6,207.5 468.0,207.6 474.3,207.6 480.7,207.7 487.0,207.7 493.4,207.8 499.8,207.8 506.1,207.8 512.5,207.9 518.8,207.9 525.2,208.0 531.6,208.0 537.9,208.1 544.0,208.1" class="b"/><path d="M307.0,193.4 309.0,193.5 315.3,193.0 321.7,191.4 328.0,188.9 334.4,185.5 340.8,180.9 347.1,174.8 353.5,165.9 359.8,151.8 366.2,131.0 372.6,103.9 378.9,73.0 385.3,43.3 391.6,20.9 398.0,11.8 404.4,18.6 410.7,39.7 417.1,69.7 423.4,102.4 429.8,132.5 436.2,157.2 442.5,175.6 448.9,188.3 455.2,196.6 461.6,201.6 468.0,204.5 474.3,206.1 480.7,206.9 487.0,207.4 493.4,207.6 499.8,207.7 506.1,207.8 512.5,207.9 518.8,207.9 525.2,208.0 531.6,208.0 537.9,208.1 544.0,208.1" class="e"/><path d="M307.0,194.0 309.0,194.2 315.3,194.3 321.7,191.3 328.0,188.5 334.4,186.1 340.8,179.8 347.1,174.2 353.5,165.4 359.8,151.4 366.2,130.2 372.6,104.9 378.9,72.5 385.3,42.8 391.6,22.4 398.0,6.3 404.4,18.8 410.7,39.1 417.1,70.1 423.4,102.4 429.8,132.2 436.2,157.9 442.5,175.1 448.9,188.4 455.2,195.8 461.6,202.4 468.0,202.8 474.3,205.1 480.7,207.2 487.0,206.4 493.4,205.6 499.8,204.9 506.1,210.3 512.5,206.5 518.8,207.2 525.2,208.1 531.6,209.6 537.9,206.0 544.0,210.1" class="d"/><path d="M162.7,249.2 169.0,249.2 175.4,249.1 181.8,248.8 188.1,248.1 194.5,247.0 200.8,245.0 207.2,242.0 213.6,238.0 219.9,232.8 226.3,226.7 232.6,220.2 239.0,214.2 245.4,209.4 251.7,206.6 258.1,206.2 264.4,208.5 270.8,212.9 277.2,218.9 283.5,225.5 289.9,232.0 296.2,237.8 302.6,242.5" class="c"/><path d="M67.3,247.4 73.6,247.4 80.0,247.4 86.4,247.2 92.7,246.9 99.1,246.4 105.4,245.8 111.8,245.1 118.2,244.3 124.5,243.6 130.9,243.1 137.2,242.8 143.6,243.0 150.0,243.5 156.3,244.3 162.7,245.3 169.0,246.3 175.4,247.2 181.8,248.1 188.1,248.8 194.5,249.3 200.8,249.7 207.2,249.9 213.6,250.2" class="c"/><path d="M105.4,248.2 111.8,248.2 118.2,248.2 124.5,248.1 130.9,247.7 137.2,247.2 143.6,246.3 150.0,245.1 156.3,243.7 162.7,242.2 169.0,240.9 175.4,240.0 181.8,239.7 188.1,240.0 194.5,241.1 200.8,242.6 207.2,244.3 213.6,246.0 219.9,247.5 226.3,248.6 232.6,249.5 239.0,250.1 245.4,250.5 251.7,250.8 258.1,251.0" class="c"/><path d="M35.5,246.9 41.8,247.0 48.2,247.1 54.6,247.3 60.9,247.4 67.3,247.5 73.6,247.6 80.0,247.7 86.4,247.9 92.7,248.0 99.1,248.1 105.4,248.2 111.8,248.3 118.2,248.5 124.5,248.6 130.9,248.7 137.2,248.8 143.6,248.9 150.0,249.1 156.3,249.2 162.7,249.3 169.0,249.4 175.4,249.5 181.8,249.6 188.1,249.8 194.5,249.9 200.8,250.0 207.2,250.1 213.6,250.2 219.9,250.4 226.3,250.5 232.6,250.6 239.0,250.7 245.4,250.8 251.7,251.0 258.1,251.1 264.4,251.2 270.8,251.3 277.2,251.4 283.5,251.6 289.9,251.7 296.2,251.8 302.6,251.9 307.0,252.0" class="b"/><path d="M35.5,246.9 41.8,247.0 48.2,247.1 54.6,247.2 60.9,247.3 67.3,247.3 73.6,247.3 80.0,247.2 86.4,247.0 92.7,246.6 99.1,246.0 105.4,245.2 111.8,244.2 118.2,243.0 124.5,241.8 130.9,240.5 137.2,239.2 143.6,238.0 150.0,236.9 156.3,235.8 162.7,234.9 169.0,234.2 175.4,233.8 181.8,233.8 188.1,234.0 194.5,234.3 200.8,234.3 207.2,233.4 213.6,231.3 219.9,227.9 226.3,223.3 232.6,217.9 239.0,212.6 245.4,208.3 251.7,205.9 258.1,205.8 264.4,208.2 270.8,212.7 277.2,218.7 283.5,225.4 289.9,232.0 296.2,237.8 302.6,242.5 307.0,245.1" class="e"/><path d="M35.5,244.7 41.8,241.9 48.2,249.2 54.6,247.6 60.9,249.0 67.3,246.4 73.6,241.4 80.0,239.3 86.4,249.3 92.7,247.4 99.1,243.3 105.4,239.0 111.8,242.5 118.2,244.0 124.5,240.6 130.9,240.5 137.2,239.5 143.6,239.0 150.0,235.4 156.3,234.6 162.7,235.0 169.0,234.4 175.4,235.4 181.8,234.4 188.1,229.3 194.5,234.6 200.8,236.2 207.2,228.2 213.6,229.3 219.9,219.7 226.3,223.0 232.6,218.5 239.0,214.5 245.4,203.2 251.7,195.8 258.1,206.8 264.4,209.0 270.8,210.4 277.2,219.8 283.5,225.8 289.9,232.4 296.2,237.0 302.6,238.2 307.0,245.0" class="d"/><path d="M307.0,250.6 309.0,250.3 315.3,249.1 321.7,247.5 328.0,245.8 334.4,244.5 340.8,244.0 347.1,245.1 353.5,247.6 359.8,250.3 366.2,252.3 372.6,253.6 378.9,254.6" class="c"/><path d="M307.0,252.0 309.0,252.0 315.3,252.1 321.7,252.2 328.0,252.3 334.4,252.4 340.8,252.5 347.1,235.9 353.5,224.6 359.8,207.8 366.2,184.9 372.6,156.2 378.9,124.2 385.3,93.4 391.6,70.4 398.0,61.0 404.4,68.1 410.7,89.9 417.1,120.9 423.4,154.7 429.8,185.8 436.2,211.3 442.5,230.3 448.9,243.5 455.2,252.0 461.6,257.3 468.0,260.3 474.3,262.3 480.7,263.6 487.0,263.7 493.4,263.8 499.8,263.9 506.1,264.0 512.5,264.1 518.8,264.2 525.2,264.3 531.6,264.3 537.9,264.4 544.0,264.5" class="c"/><path d="M307.0,252.0 309.0,252.0 315.3,252.1 321.7,252.2 328.0,252.3 334.4,252.4 340.8,252.5 347.1,252.7 353.5,252.9 359.8,253.1 366.2,253.5 372.6,254.0 378.9,254.7 385.3,255.6 391.6,256.6 398.0,257.7 404.4,258.8 410.7,259.9 417.1,260.8 423.4,261.5 429.8,262.1 436.2,262.5 442.5,262.8 448.9,263.1 455.2,263.2 461.6,263.4 468.0,263.5 474.3,263.6 480.7,263.7 487.0,263.7 493.4,263.8 499.8,263.9 506.1,264.0 512.5,264.1 518.8,264.2 525.2,264.3 531.6,264.3 537.9,264.4 544.0,264.5" class="b"/><path d="M307.0,247.0 309.0,247.1 315.3,246.7 321.7,245.2 328.0,242.6 334.4,239.1 340.8,234.4 347.1,228.2 353.5,219.3 359.8,205.0 366.2,183.7 372.6,155.8 378.9,124.1 385.3,93.4 391.6,70.4 398.0,61.0 404.4,68.1 410.7,89.9 417.1,120.9 423.4,154.7 429.8,185.8 436.2,211.3 442.5,230.3 448.9,243.5 455.2,252.0 461.6,257.3 468.0,260.3 474.3,262.0 480.7,262.9 487.0,263.4 493.4,263.7 499.8,263.9 506.1,264.0 512.5,264.1 518.8,264.2 525.2,264.3 531.6,264.3 537.9,264.4 544.0,264.5" class="e"/><path d="M307.0,246.2 309.0,247.4 315.3,246.5 321.7,246.9 328.0,243.8 334.4,238.5 340.8,234.9 347.1,227.8 353.5,218.8 359.8,203.9 366.2,183.1 372.6,155.0 378.9,124.2 385.3,94.0 391.6,71.0 398.0,61.4 404.4,69.0 410.7,90.3 417.1,121.0 423.4,154.5 429.8,186.1 436.2,212.8 442.5,230.4 448.9,243.3 455.2,250.3 461.6,256.3 468.0,261.3 474.3,263.2 480.7,259.7 487.0,262.2 493.4,260.8 499.8,260.5 506.1,265.3 512.5,263.5 518.8,263.4 525.2,263.4 531.6,263.5 537.9,264.1 544.0,264.2" class="d"/><path d="M162.7,302.2 169.0,302.2 175.4,302.0 181.8,301.6 188.1,300.9 194.5,299.5 200.8,297.4 207.2,294.3 213.6,290.0 219.9,284.8 226.3,279.0 232.6,273.1 239.0,267.8 245.4,264.0 251.7,262.2 258.1,262.9 264.4,265.9 270.8,270.7 277.2,276.6 283.5,282.9 289.9,288.8 296.2,293.8 302.6,297.8" class="c"/><path d="M67.3,300.2 73.6,300.2 80.0,300.2 86.4,300.1 92.7,299.8 99.1,299.4 105.4,298.9 111.8,298.2 118.2,297.5 124.5,296.9 130.9,296.4 137.2,296.3 143.6,296.4 150.0,296.9 156.3,297.7 162.7,298.6 169.0,299.5 175.4,300.4 181.8,301.2 188.1,301.9 194.5,302.4 200.8,302.8 207.2,303.0 213.6,303.3" class="c"/><path d="M105.4,301.0 111.8,301.1 118.2,301.0 124.5,300.8 130.9,300.4 137.2,299.7 143.6,298.6 150.0,297.1 156.3,295.3 162.7,293.4 169.0,291.8 175.4,290.6 181.8,290.2 188.1,290.6 194.5,291.9 200.8,293.8 207.2,295.9 213.6,298.0 219.9,299.8 226.3,301.3 232.6,302.4 239.0,303.1 245.4,303.6 251.7,304.0 258.1,304.2" class="c"/><path d="M35.5,299.6 41.8,299.7 48.2,299.9 54.6,300.0 60.9,300.1 67.3,300.3 73.6,300.4 80.0,300.5 86.4,300.7 92.7,300.8 99.1,300.9 105.4,301.1 111.8,301.2 118.2,301.3 124.5,301.5 130.9,301.6 137.2,301.7 143.6,301.9 150.0,302.0 156.3,302.1 162.7,302.3 169.0,302.4 175.4,302.5 181.8,302.7 188.1,302.8 194.5,302.9 200.8,303.1 207.2,303.2 213.6,303.3 219.9,303.5 226.3,303.6 232.6,303.7 239.0,303.9 245.4,304.0 251.7,304.1 258.1,304.3 264.4,304.4 270.8,304.5 277.2,304.7 283.5,304.8 289.9,304.9 296.2,305.1 302.6,305.2 307.0,305.3" class="b"/><path d="M35.5,299.6 41.8,299.7 48.2,299.8 54.6,300.0 60.9,300.1 67.3,300.1 73.6,300.1 80.0,300.1 86.4,299.9 92.7,299.5 99.1,299.0 105.4,298.2 111.8,297.3 118.2,296.2 124.5,294.9 130.9,293.6 137.2,292.2 143.6,290.8 150.0,289.3 156.3,287.8 162.7,286.4 169.0,285.2 175.4,284.5 181.8,284.2 188.1,284.4 194.5,284.8 200.8,284.9 207.2,284.2 213.6,282.4 219.9,279.3 226.3,275.1 232.6,270.4 239.0,266.1 245.4,262.8 251.7,261.5 258.1,262.4 264.4,265.6 270.8,270.5 277.2,276.5 283.5,282.8 289.9,288.7 296.2,293.8 302.6,297.8 307.0,300.0" class="e"/><path d="M35.5,301.1 41.8,299.9 48.2,300.6 54.6,299.6 60.9,300.5 67.3,298.3 73.6,297.7 80.0,299.1 86.4,298.9 92.7,299.2 99.1,299.4 105.4,298.4 111.8,297.8 118.2,295.0 124.5,294.9 130.9,291.9 137.2,293.6 143.6,288.1 150.0,290.1 156.3,288.5 162.7,286.6 169.0,285.8 175.4,283.6 181.8,284.8 188.1,285.5 194.5,285.6 200.8,280.9 207.2,284.1 213.6,283.5 219.9,279.2 226.3,276.7 232.6,265.1 239.0,267.6 245.4,261.4 251.7,259.9 258.1,263.9 264.4,264.7 270.8,267.5 277.2,275.1 283.5,282.0 289.9,285.9 296.2,293.3 302.6,296.8 307.0,300.1" class="d"/><path d="M307.0,303.9 309.0,303.6 315.3,302.4 321.7,300.9 328.0,299.2 334.4,297.9 340.8,297.5 347.1,298.6 353.5,301.2 359.8,303.9 366.2,305.9 372.6,307.2 378.9,308.2" class="c"/><path d="M307.0,305.3 309.0,305.3 315.3,305.5 321.7,305.6 328.0,305.7 334.4,305.9 340.8,306.0 347.1,289.3 353.5,278.0 359.8,261.2 366.2,238.2 372.6,209.4 378.9,177.1 385.3,146.2 391.6,123.0 398.0,113.5 404.4,120.6 410.7,142.4 417.1,173.5 423.4,207.4 429.8,238.6 436.2,264.3 442.5,283.4 448.9,296.7 455.2,305.3 461.6,310.6 468.0,313.6 474.3,315.7 480.7,317.1 487.0,317.2 493.4,317.3 499.8,317.5 506.1,317.6 512.5,317.7 518.8,317.8 525.2,317.9 531.6,318.1 537.9,318.2 544.0,318.3" class="c"/><path d="M307.0,305.3 309.0,305.3 315.3,305.5 321.7,305.6 328.0,305.7 334.4,305.9 340.8,306.0 347.1,306.2 353.5,306.4 359.8,306.7 366.2,307.1 372.6,307.6 378.9,308.3 385.3,309.1 391.6,310.1 398.0,311.1 404.4,312.2 410.7,313.2 417.1,314.0 423.4,314.7 429.8,315.3 436.2,315.7 442.5,316.1 448.9,316.3 455.2,316.5 461.6,316.7 468.0,316.8 474.3,317.0 480.7,317.1 487.0,317.2 493.4,317.3 499.8,317.5 506.1,317.6 512.5,317.7 518.8,317.8 525.2,317.9 531.6,318.1 537.9,318.2 544.0,318.3" class="b"/><path d="M307.0,301.0 309.0,301.1 315.3,300.5 321.7,298.8 328.0,296.2 334.4,292.6 340.8,287.9 347.1,281.7 353.5,272.7 359.8,258.3 366.2,237.0 372.6,209.0 378.9,177.0 385.3,146.2 391.6,123.0 398.0,113.5 404.4,120.6 410.7,142.4 417.1,173.5 423.4,207.4 429.8,238.6 436.2,264.3 442.5,283.4 448.9,296.7 455.2,305.3 461.6,310.6 468.0,313.6 474.3,315.4 480.7,316.3 487.0,316.9 493.4,317.2 499.8,317.4 506.1,317.5 512.5,317.7 518.8,317.8 525.2,317.9 531.6,318.1 537.9,318.2 544.0,318.3" class="e"/><path d="M307.0,300.5 309.0,301.8 315.3,299.9 321.7,299.3 328.0,297.1 334.4,292.3 340.8,286.6 347.1,280.9 353.5,273.1 359.8,257.8 366.2,237.3 372.6,209.1 378.9,177.0 385.3,148.0 391.6,122.9 398.0,114.3 404.4,121.1 410.7,143.6 417.1,174.7 423.4,208.1 429.8,238.0 436.2,262.9 442.5,283.4 448.9,295.8 455.2,305.7 461.6,313.6 468.0,313.4 474.3,314.7 480.7,317.0 487.0,316.4 493.4,316.3 499.8,318.8 506.1,319.9 512.5,318.0 518.8,318.2 525.2,318.5 531.6,316.5 537.9,315.4 544.0,319.0" class="d"/><path d="M162.7,355.9 169.0,355.9 175.4,355.8 181.8,355.4 188.1,354.7 194.5,353.4 200.8,351.4 207.2,348.5 213.6,344.7 219.9,340.0 226.3,334.8 232.6,329.7 239.0,325.2 245.4,322.1 251.7,320.9 258.1,321.9 264.4,324.8 270.8,329.3 277.2,334.6 283.5,340.1 289.9,345.2 296.2,349.6 302.6,353.0" class="c"/><path d="M60.9,353.8 67.3,353.8 73.6,353.8 80.0,353.8 86.4,353.5 92.7,353.1 99.1,352.5 105.4,351.6 111.8,350.6 118.2,349.5 124.5,348.5 130.9,347.8 137.2,347.5 143.6,347.7 150.0,348.3 156.3,349.4 162.7,350.6 169.0,352.0 175.4,353.2 181.8,354.3 188.1,355.2 194.5,355.9 200.8,356.4 207.2,356.7 213.6,357.0 219.9,357.2" class="c"/><path d="M105.4,354.7 111.8,354.8 118.2,354.7 124.5,354.5 130.9,354.0 137.2,353.1 143.6,351.8 150.0,350.1 156.3,348.0 162.7,345.8 169.0,343.8 175.4,342.4 181.8,341.9 188.1,342.5 194.5,343.9 200.8,346.1 207.2,348.5 213.6,350.9 219.9,353.0 226.3,354.7 232.6,355.9 239.0,356.8 245.4,357.3 251.7,357.7 258.1,358.0" class="c"/><path d="M35.5,353.3 41.8,353.4 48.2,353.6 54.6,353.7 60.9,353.8 67.3,354.0 73.6,354.1 80.0,354.3 86.4,354.4 92.7,354.5 99.1,354.7 105.4,354.8 111.8,354.9 118.2,355.1 124.5,355.2 130.9,355.3 137.2,355.5 143.6,355.6 150.0,355.7 156.3,355.9 162.7,356.0 169.0,356.2 175.4,356.3 181.8,356.4 188.1,356.6 194.5,356.7 200.8,356.8 207.2,357.0 213.6,357.1 219.9,357.2 226.3,357.4 232.6,357.5 239.0,357.6 245.4,357.8 251.7,357.9 258.1,358.1 264.4,358.2 270.8,358.3 277.2,358.5 283.5,358.6 289.9,358.7 296.2,358.9 302.6,359.0 307.0,359.1" class="b"/><path d="M35.5,353.3 41.8,353.4 48.2,353.5 54.6,353.7 60.9,353.7 67.3,353.8 73.6,353.7 80.0,353.6 86.4,353.3 92.7,352.7 99.1,351.9 105.4,350.9 111.8,349.5 118.2,348.0 124.5,346.3 130.9,344.6 137.2,342.9 143.6,341.2 150.0,339.6 156.3,338.0 162.7,336.6 169.0,335.5 175.4,334.9 181.8,334.9 188.1,335.4 194.5,336.2 200.8,336.9 207.2,336.9 213.6,335.8 219.9,333.6 226.3,330.4 232.6,326.7 239.0,323.2 245.4,320.8 251.7,320.1 258.1,321.3 264.4,324.5 270.8,329.0 277.2,334.5 283.5,340.0 289.9,345.2 296.2,349.5 302.6,352.9 307.0,354.7" class="e"/><path d="M35.5,351.4 41.8,350.9 48.2,351.6 54.6,350.8 60.9,354.1 67.3,351.8 73.6,348.3 80.0,351.4 86.4,353.8 92.7,351.1 99.1,348.5 105.4,349.9 111.8,350.0 118.2,343.8 124.5,347.4 130.9,343.2 137.2,342.9 143.6,342.3 150.0,336.3 156.3,337.1 162.7,337.6 169.0,333.9 175.4,335.3 181.8,336.6 188.1,336.0 194.5,335.5 200.8,335.1 207.2,336.4 213.6,335.7 219.9,332.3 226.3,330.5 232.6,323.5 239.0,322.8 245.4,320.0 251.7,318.6 258.1,322.3 264.4,325.1 270.8,324.9 277.2,333.6 283.5,340.3 289.9,344.3 296.2,350.0 302.6,352.2 307.0,355.3" class="d"/><path d="M307.0,357.7 309.0,357.4 315.3,356.3 321.7,354.7 328.0,353.0 334.4,351.8 340.8,351.4 347.1,352.5 353.5,355.0 359.8,357.7 366.2,359.7 372.6,361.0 378.9,361.9" class="c"/><path d="M307.0,359.1 309.0,359.1 315.3,359.3 321.7,359.4 328.0,359.5 334.4,359.7 340.8,359.9 347.1,343.2 353.5,331.8 359.8,315.0 366.2,292.0 372.6,263.1 378.9,230.8 385.3,199.8 391.6,176.5 398.0,166.8 404.4,173.8 410.7,195.5 417.1,226.5 423.4,260.3 429.8,291.6 436.2,317.1 442.5,336.3 448.9,349.5 455.2,358.2 461.6,363.4 468.0,366.5 474.3,368.6 480.7,370.0 487.0,370.1 493.4,370.3 499.8,370.4 506.1,370.5 512.5,370.7 518.8,370.8 525.2,370.9 531.6,371.0 537.9,371.2 544.0,371.3" class="c"/><path d="M307.0,359.1 309.0,359.1 315.3,359.3 321.7,359.4 328.0,359.5 334.4,359.7 340.8,359.9 347.1,360.0 353.5,360.3 359.8,360.5 366.2,360.9 372.6,361.4 378.9,362.0 385.3,362.7 391.6,363.6 398.0,364.5 404.4,365.4 410.7,366.3 417.1,367.1 423.4,367.7 429.8,368.3 436.2,368.7 442.5,369.0 448.9,369.2 455.2,369.4 461.6,369.6 468.0,369.7 474.3,369.9 480.7,370.0 487.0,370.1 493.4,370.3 499.8,370.4 506.1,370.5 512.5,370.7 518.8,370.8 525.2,370.9 531.6,371.0 537.9,371.2 544.0,371.3" class="b"/><path d="M307.0,355.3 309.0,355.3 315.3,354.6 321.7,352.8 328.0,350.1 334.4,346.5 340.8,341.8 347.1,335.6 353.5,326.5 359.8,312.1 366.2,290.8 372.6,262.7 378.9,230.7 385.3,199.7 391.6,176.5 398.0,166.8 404.4,173.8 410.7,195.5 417.1,226.5 423.4,260.3 429.8,291.6 436.2,317.1 442.5,336.3 448.9,349.5 455.2,358.2 461.6,363.4 468.0,366.5 474.3,368.3 480.7,369.2 487.0,369.8 493.4,370.1 499.8,370.3 506.1,370.5 512.5,370.6 518.8,370.8 525.2,370.9 531.6,371.0 537.9,371.2 544.0,371.3" class="e"/><path d="M307.0,355.1 309.0,356.6 315.3,353.5 321.7,353.2 328.0,351.4 334.4,346.7 340.8,342.1 347.1,335.4 353.5,327.4 359.8,311.8 366.2,287.9 372.6,263.7 378.9,230.4 385.3,200.0 391.6,176.3 398.0,168.3 404.4,174.7 410.7,195.1 417.1,226.6 423.4,259.0 429.8,292.1 436.2,317.0 442.5,334.0 448.9,350.2 455.2,359.0 461.6,363.5 468.0,366.6 474.3,367.5 480.7,369.1 487.0,370.5 493.4,369.9 499.8,368.0 506.1,369.4 512.5,373.1 518.8,370.9 525.2,371.7 531.6,370.5 537.9,371.3 544.0,369.6" class="d"/><path d="M162.7,409.6 169.0,409.6 175.4,409.6 181.8,409.4 188.1,408.9 194.5,408.1 200.8,406.8 207.2,404.8 213.6,402.1 219.9,398.7 226.3,394.8 232.6,390.9 239.0,387.4 245.4,384.8 251.7,383.6 258.1,383.9 264.4,385.8 270.8,389.0 277.2,393.0 283.5,397.2 289.9,401.2 296.2,404.6 302.6,407.4" class="c"/><path d="M60.9,407.4 67.3,407.5 73.6,407.5 80.0,407.3 86.4,407.0 92.7,406.4 99.1,405.6 105.4,404.5 111.8,403.2 118.2,401.8 124.5,400.5 130.9,399.6 137.2,399.2 143.6,399.3 150.0,400.1 156.3,401.3 162.7,402.9 169.0,404.5 175.4,406.1 181.8,407.4 188.1,408.5 194.5,409.3 200.8,409.8 207.2,410.2 213.6,410.5 219.9,410.7" class="c"/><path d="M105.4,408.4 111.8,408.4 118.2,408.4 124.5,408.3 130.9,407.9 137.2,407.3 143.6,406.3 150.0,404.9 156.3,403.3 162.7,401.6 169.0,400.1 175.4,399.1 181.8,398.7 188.1,399.2 194.5,400.3 200.8,402.0 207.2,404.0 213.6,405.9 219.9,407.5 226.3,408.9 232.6,409.8 239.0,410.5 245.4,411.0 251.7,411.3 258.1,411.5" class="c"/><path d="M35.5,407.0 41.8,407.1 48.2,407.3 54.6,407.4 60.9,407.5 67.3,407.7 73.6,407.8 80.0,407.9 86.4,408.0 92.7,408.2 99.1,408.3 105.4,408.4 111.8,408.6 118.2,408.7 124.5,408.8 130.9,409.0 137.2,409.1 143.6,409.2 150.0,409.4 156.3,409.5 162.7,409.6 169.0,409.8 175.4,409.9 181.8,410.0 188.1,410.1 194.5,410.3 200.8,410.4 207.2,410.5 213.6,410.7 219.9,410.8 226.3,410.9 232.6,411.1 239.0,411.2 245.4,411.3 251.7,411.5 258.1,411.6 264.4,411.7 270.8,411.9 277.2,412.0 283.5,412.1 289.9,412.2 296.2,412.4 302.6,412.5 307.0,412.6" class="b"/><path d="M35.5,407.0 41.8,407.1 48.2,407.2 54.6,407.3 60.9,407.4 67.3,407.4 73.6,407.3 80.0,407.1 86.4,406.7 92.7,406.0 99.1,405.0 105.4,403.7 111.8,402.0 118.2,400.2 124.5,398.3 130.9,396.4 137.2,394.8 143.6,393.4 150.0,392.2 156.3,391.3 162.7,390.7 169.0,390.4 175.4,390.5 181.8,391.0 188.1,391.9 194.5,393.0 200.8,394.0 207.2,394.5 213.6,394.2 219.9,392.9 226.3,390.7 232.6,388.1 239.0,385.5 245.4,383.5 251.7,382.7 258.1,383.4 264.4,385.5 270.8,388.8 277.2,392.8 283.5,397.1 289.9,401.1 296.2,404.6 302.6,407.4 307.0,408.9" class="e"/><path d="M35.5,404.8 41.8,405.0 48.2,406.8 54.6,407.4 60.9,406.6 67.3,404.3 73.6,406.1 80.0,407.4 86.4,403.6 92.7,405.5 99.1,405.1 105.4,404.3 111.8,402.5 118.2,400.7 124.5,400.5 130.9,394.0 137.2,393.4 143.6,393.5 150.0,389.7 156.3,390.3 162.7,389.8 169.0,392.4 175.4,390.6 181.8,389.7 188.1,388.0 194.5,388.6 200.8,390.6 207.2,395.4 213.6,395.9 219.9,391.5 226.3,390.6 232.6,385.8 239.0,385.6 245.4,383.0 251.7,383.9 258.1,382.3 264.4,385.8 270.8,387.9 277.2,391.7 283.5,397.2 289.9,400.4 296.2,404.6 302.6,405.6 307.0,407.7" class="d"/><path d="M307.0,411.2 309.0,410.9 315.3,409.8 321.7,408.2 328.0,406.5 334.4,405.3 340.8,404.9 347.1,406.0 353.5,408.6 359.8,411.3 366.2,413.3 372.6,414.6 378.9,415.5" class="c"/><path d="M307.0,412.6 309.0,412.6 315.3,412.8 321.7,412.9 328.0,413.1 334.4,413.2 340.8,413.4 347.1,396.6 353.5,385.2 359.8,368.4 366.2,345.3 372.6,316.3 378.9,283.9 385.3,252.8 391.6,229.4 398.0,219.8 404.4,226.8 410.7,248.7 417.1,279.9 423.4,313.9 429.8,345.3 436.2,371.0 442.5,390.2 448.9,403.5 455.2,412.2 461.6,417.5 468.0,420.6 474.3,422.7 480.7,424.1 487.0,424.3 493.4,424.4 499.8,424.5 506.1,424.7 512.5,424.8 518.8,425.0 525.2,425.1 531.6,425.2 537.9,425.4 544.0,425.5" class="c"/><path d="M307.0,412.6 309.0,412.6 315.3,412.8 321.7,412.9 328.0,413.1 334.4,413.2 340.8,413.4 347.1,413.6 353.5,413.8 359.8,414.1 366.2,414.5 372.6,415.0 378.9,415.6 385.3,416.4 391.6,417.3 398.0,418.3 404.4,419.3 410.7,420.2 417.1,421.1 423.4,421.7 429.8,422.3 436.2,422.7 442.5,423.0 448.9,423.3 455.2,423.5 461.6,423.7 468.0,423.8 474.3,424.0 480.7,424.1 487.0,424.3 493.4,424.4 499.8,424.5 506.1,424.7 512.5,424.8 518.8,425.0 525.2,425.1 531.6,425.2 537.9,425.4 544.0,425.5" class="b"/><path d="M307.0,409.2 309.0,409.1 315.3,408.2 321.7,406.4 328.0,403.6 334.4,400.0 340.8,395.3 347.1,389.0 353.5,380.0 359.8,365.5 366.2,344.1 372.6,315.9 378.9,283.8 385.3,252.8 391.6,229.4 398.0,219.8 404.4,226.8 410.7,248.7 417.1,279.9 423.4,313.9 429.8,345.3 436.2,371.0 442.5,390.2 448.9,403.5 455.2,412.2 461.6,417.5 468.0,420.6 474.3,422.4 480.7,423.4 487.0,423.9 493.4,424.3 499.8,424.5 506.1,424.7 512.5,424.8 518.8,424.9 525.2,425.1 531.6,425.2 537.9,425.4 544.0,425.5" class="e"/><path d="M307.0,409.6 309.0,409.6 315.3,406.8 321.7,406.5 328.0,402.9 334.4,399.7 340.8,395.7 347.1,389.6 353.5,379.9 359.8,365.3 366.2,343.6 372.6,316.9 378.9,284.3 385.3,252.8 391.6,228.2 398.0,221.7 404.4,226.5 410.7,249.1 417.1,279.6 423.4,314.3 429.8,345.0 436.2,369.7 442.5,389.9 448.9,403.2 455.2,411.9 461.6,418.2 468.0,420.1 474.3,422.6 480.7,424.1 487.0,424.0 493.4,424.5 499.8,423.8 506.1,424.7 512.5,425.3 518.8,423.6 525.2,424.2 531.6,424.1 537.9,424.8 544.0,425.6" class="d"/><path d="M169.0,464.0 175.4,464.0 181.8,463.9 188.1,463.6 194.5,463.0 200.8,462.0 207.2,460.5 213.6,458.5 219.9,456.0 226.3,453.1 232.6,450.2 239.0,447.5 245.4,445.6 251.7,444.7 258.1,445.0 264.4,446.4 270.8,448.8 277.2,451.8 283.5,455.0 289.9,458.0 296.2,460.6 302.6,462.7" class="c"/><path d="M60.9,462.1 67.3,462.1 73.6,462.0 80.0,461.8 86.4,461.3 92.7,460.5 99.1,459.3 105.4,457.9 111.8,456.1 118.2,454.3 124.5,452.6 130.9,451.3 137.2,450.7 143.6,450.8 150.0,451.8 156.3,453.3 162.7,455.3 169.0,457.4 175.4,459.3 181.8,461.0 188.1,462.3 194.5,463.3 200.8,464.0 207.2,464.4 213.6,464.7 219.9,465.0" class="c"/><path d="M111.8,463.1 118.2,463.1 124.5,463.0 130.9,462.8 137.2,462.5 143.6,461.9 150.0,461.1 156.3,460.1 162.7,459.1 169.0,458.2 175.4,457.6 181.8,457.4 188.1,457.7 194.5,458.4 200.8,459.5 207.2,460.8 213.6,462.0 219.9,463.0 226.3,463.9 232.6,464.5 239.0,465.0 245.4,465.3 251.7,465.5" class="c"/><path d="M35.5,461.8 41.8,461.9 48.2,462.0 54.6,462.1 60.9,462.2 67.3,462.4 73.6,462.5 80.0,462.6 86.4,462.7 92.7,462.8 99.1,462.9 105.4,463.0 111.8,463.1 118.2,463.3 124.5,463.4 130.9,463.5 137.2,463.6 143.6,463.7 150.0,463.8 156.3,463.9 162.7,464.0 169.0,464.2 175.4,464.3 181.8,464.4 188.1,464.5 194.5,464.6 200.8,464.7 207.2,464.8 213.6,464.9 219.9,465.1 226.3,465.2 232.6,465.3 239.0,465.4 245.4,465.5 251.7,465.6 258.1,465.7 264.4,465.8 270.8,466.0 277.2,466.1 283.5,466.2 289.9,466.3 296.2,466.4 302.6,466.5 307.0,466.6" class="b"/><path d="M35.5,461.8 41.8,461.9 48.2,462.0 54.6,462.1 60.9,462.1 67.3,462.1 73.6,461.9 80.0,461.6 86.4,461.0 92.7,460.1 99.1,458.8 105.4,457.1 111.8,455.0 118.2,452.8 124.5,450.5 130.9,448.5 137.2,447.0 143.6,446.0 150.0,445.6 156.3,445.7 162.7,446.2 169.0,446.9 175.4,447.9 181.8,449.0 188.1,450.2 194.5,451.4 200.8,452.3 207.2,452.7 213.6,452.4 219.9,451.4 226.3,449.8 232.6,447.8 239.0,445.9 245.4,444.4 251.7,443.9 258.1,444.4 264.4,446.1 270.8,448.6 277.2,451.7 283.5,454.9 289.9,457.9 296.2,460.6 302.6,462.7 307.0,463.8" class="e"/><path d="M35.5,462.1 41.8,462.1 48.2,459.9 54.6,461.8 60.9,463.2 67.3,462.1 73.6,463.0 80.0,461.2 86.4,461.9 92.7,461.1 99.1,458.5 105.4,457.1 111.8,456.3 118.2,451.1 124.5,445.6 130.9,449.6 137.2,442.9 143.6,446.5 150.0,446.0 156.3,445.8 162.7,447.2 169.0,444.0 175.4,446.8 181.8,449.6 188.1,450.5 194.5,452.5 200.8,452.5 207.2,450.6 213.6,453.7 219.9,451.7 226.3,449.4 232.6,445.4 239.0,442.8 245.4,444.8 251.7,444.5 258.1,443.4 264.4,446.3 270.8,448.8 277.2,449.2 283.5,451.1 289.9,457.3 296.2,460.7 302.6,461.4 307.0,465.2" class="d"/><path d="M307.0,465.2 309.0,464.9 315.3,463.8 321.7,462.2 328.0,460.5 334.4,459.3 340.8,458.9 347.1,460.0 353.5,462.6 359.8,465.3 366.2,467.3 372.6,468.6 378.9,469.5" class="c"/><path d="M307.0,466.6 309.0,466.6 315.3,466.8 321.7,466.9 328.0,467.1 334.4,467.2 340.8,467.4 347.1,450.5 353.5,439.0 359.8,422.0 366.2,398.7 372.6,369.5 378.9,336.8 385.3,305.5 391.6,281.9 398.0,272.2 404.4,279.3 410.7,301.3 417.1,332.8 423.4,367.0 429.8,398.6 436.2,424.6 442.5,443.9 448.9,457.4 455.2,466.1 461.6,471.5 468.0,474.6 474.3,476.7 480.7,478.1 487.0,478.3 493.4,478.4 499.8,478.5 506.1,478.7 512.5,478.8 518.8,479.0 525.2,479.1 531.6,479.2 537.9,479.4 544.0,479.5" class="c"/><path d="M307.0,466.6 309.0,466.6 315.3,466.8 321.7,466.9 328.0,467.1 334.4,467.2 340.8,467.4 347.1,467.6 353.5,467.8 359.8,468.1 366.2,468.5 372.6,469.0 378.9,469.6 385.3,470.4 391.6,471.3 398.0,472.3 404.4,473.3 410.7,474.2 417.1,475.1 423.4,475.7 429.8,476.3 436.2,476.7 442.5,477.0 448.9,477.3 455.2,477.5 461.6,477.7 468.0,477.8 474.3,478.0 480.7,478.1 487.0,478.3 493.4,478.4 499.8,478.5 506.1,478.7 512.5,478.8 518.8,479.0 525.2,479.1 531.6,479.2 537.9,479.4 544.0,479.5" class="b"/><path d="M307.0,463.6 309.0,463.5 315.3,462.5 321.7,460.5 328.0,457.7 334.4,454.0 340.8,449.2 347.1,442.9 353.5,433.8 359.8,419.2 366.2,397.5 372.6,369.1 378.9,336.7 385.3,305.5 391.6,281.9 398.0,272.2 404.4,279.3 410.7,301.3 417.1,332.8 423.4,367.0 429.8,398.6 436.2,424.6 442.5,443.9 448.9,457.4 455.2,466.1 461.6,471.5 468.0,474.6 474.3,476.4 480.7,477.4 487.0,477.9 493.4,478.3 499.8,478.5 506.1,478.7 512.5,478.8 518.8,478.9 525.2,479.1 531.6,479.2 537.9,479.4 544.0,479.5" class="e"/><path d="M307.0,463.6 309.0,464.3 315.3,460.6 321.7,459.9 328.0,457.6 334.4,454.2 340.8,451.2 347.1,442.3 353.5,432.4 359.8,419.8 366.2,397.0 372.6,368.5 378.9,338.0 385.3,304.7 391.6,280.8 398.0,272.0 404.4,279.3 410.7,300.7 417.1,334.0 423.4,367.0 429.8,397.8 436.2,425.6 442.5,443.2 448.9,457.7 455.2,468.0 461.6,471.6 468.0,475.5 474.3,476.1 480.7,478.4 487.0,477.0 493.4,478.9 499.8,478.2 506.1,479.2 512.5,479.1 518.8,477.9 525.2,478.9 531.6,479.6 537.9,480.5 544.0,478.5" class="d"/><path d="M169.0,516.2 175.4,516.2 181.8,516.1 188.1,515.9 194.5,515.4 200.8,514.6 207.2,513.5 213.6,511.9 219.9,510.1 226.3,508.1 232.6,506.2 239.0,504.6 245.4,503.6 251.7,503.4 258.1,504.1 264.4,505.5 270.8,507.4 277.2,509.6 283.5,511.8 289.9,513.8 296.2,515.5 302.6,516.8" class="c"/><path d="M54.6,514.1 60.9,514.2 67.3,514.1 73.6,514.0 80.0,513.6 86.4,513.0 92.7,511.9 99.1,510.5 105.4,508.6 111.8,506.3 118.2,504.0 124.5,501.8 130.9,500.2 137.2,499.3 143.6,499.5 150.0,500.7 156.3,502.7 162.7,505.1 169.0,507.7 175.4,510.2 181.8,512.3 188.1,513.9 194.5,515.2 200.8,516.0 207.2,516.6 213.6,517.0 219.9,517.2 226.3,517.4" class="c"/><path d="M111.8,515.2 118.2,515.3 124.5,515.2 130.9,515.2 137.2,514.9 143.6,514.6 150.0,514.0 156.3,513.4 162.7,512.7 169.0,512.1 175.4,511.7 181.8,511.6 188.1,511.9 194.5,512.4 200.8,513.3 207.2,514.2 213.6,515.1 219.9,515.9 226.3,516.5 232.6,517.0 239.0,517.4 245.4,517.7 251.7,517.9" class="c"/><path d="M35.5,513.8 41.8,513.9 48.2,514.0 54.6,514.2 60.9,514.3 67.3,514.4 73.6,514.5 80.0,514.7 86.4,514.8 92.7,514.9 99.1,515.0 105.4,515.1 111.8,515.3 118.2,515.4 124.5,515.5 130.9,515.6 137.2,515.7 143.6,515.9 150.0,516.0 156.3,516.1 162.7,516.2 169.0,516.4 175.4,516.5 181.8,516.6 188.1,516.7 194.5,516.8 200.8,517.0 207.2,517.1 213.6,517.2 219.9,517.3 226.3,517.5 232.6,517.6 239.0,517.7 245.4,517.8 251.7,517.9 258.1,518.1 264.4,518.2 270.8,518.3 277.2,518.4 283.5,518.6 289.9,518.7 296.2,518.8 302.6,518.9 307.0,519.0" class="b"/><path d="M35.5,513.8 41.8,513.9 48.2,514.0 54.6,514.1 60.9,514.1 67.3,514.1 73.6,513.9 80.0,513.5 86.4,512.7 92.7,511.6 99.1,510.0 105.4,507.9 111.8,505.4 118.2,502.7 124.5,500.0 130.9,497.8 137.2,496.3 143.6,495.6 150.0,495.7 156.3,496.5 162.7,497.9 169.0,499.5 175.4,501.2 181.8,502.9 188.1,504.4 194.5,505.7 200.8,506.6 207.2,507.0 213.6,507.0 219.9,506.3 226.3,505.3 232.6,504.2 239.0,503.2 245.4,502.6 251.7,502.8 258.1,503.6 264.4,505.1 270.8,507.2 277.2,509.4 283.5,511.7 289.9,513.7 296.2,515.4 302.6,516.8 307.0,517.5" class="e"/><path d="M35.5,512.1 41.8,514.1 48.2,513.5 54.6,514.9 60.9,514.9 67.3,514.7 73.6,513.1 80.0,512.8 86.4,513.3 92.7,510.0 99.1,508.2 105.4,507.5 111.8,503.0 118.2,502.9 124.5,500.1 130.9,496.7 137.2,496.3 143.6,493.8 150.0,496.6 156.3,493.3 162.7,498.4 169.0,499.6 175.4,502.2 181.8,501.5 188.1,501.5 194.5,503.3 200.8,504.7 207.2,508.2 213.6,507.5 219.9,506.7 226.3,506.1 232.6,501.7 239.0,502.8 245.4,502.7 251.7,501.7 258.1,504.3 264.4,505.8 270.8,507.8 277.2,508.3 283.5,510.9 289.9,512.4 296.2,513.0 302.6,517.8 307.0,517.9" class="d"/><path d="M307.0,517.6 309.0,517.4 315.3,516.2 321.7,514.6 328.0,513.0 334.4,511.7 340.8,511.4 347.1,512.5 353.5,515.1 359.8,517.8 366.2,519.9 372.6,521.2 378.9,522.2" class="c"/><path d="M307.0,519.0 309.0,519.0 315.3,519.2 321.7,519.4 328.0,519.5 334.4,519.7 340.8,519.9 347.1,502.9 353.5,491.4 359.8,474.4 366.2,451.0 372.6,421.7 378.9,389.0 385.3,357.5 391.6,334.0 398.0,324.3 404.4,331.5 410.7,353.7 417.1,385.3 423.4,419.8 429.8,451.6 436.2,477.6 442.5,497.1 448.9,510.6 455.2,519.4 461.6,524.8 468.0,528.0 474.3,530.0 480.7,531.5 487.0,531.7 493.4,531.8 499.8,532.0 506.1,532.1 512.5,532.3 518.8,532.4 525.2,532.6 531.6,532.7 537.9,532.9 544.0,533.0" class="c"/><path d="M307.0,519.0 309.0,519.0 315.3,519.2 321.7,519.4 328.0,519.5 334.4,519.7 340.8,519.9 347.1,520.1 353.5,520.3 359.8,520.6 366.2,521.1 372.6,521.6 378.9,522.3 385.3,523.1 391.6,524.1 398.0,525.2 404.4,526.3 410.7,527.3 417.1,528.2 423.4,528.9 429.8,529.5 436.2,530.0 442.5,530.3 448.9,530.6 455.2,530.8 461.6,531.0 468.0,531.2 474.3,531.3 480.7,531.5 487.0,531.7 493.4,531.8 499.8,532.0 506.1,532.1 512.5,532.3 518.8,532.4 525.2,532.6 531.6,532.7 537.9,532.9 544.0,533.0" class="b"/><path d="M307.0,516.7 309.0,516.4 315.3,515.2 321.7,513.1 328.0,510.2 334.4,506.5 340.8,501.7 347.1,495.3 353.5,486.1 359.8,471.5 366.2,449.8 372.6,421.3 378.9,388.9 385.3,357.5 391.6,334.0 398.0,324.3 404.4,331.5 410.7,353.7 417.1,385.3 423.4,419.8 429.8,451.6 436.2,477.6 442.5,497.1 448.9,510.6 455.2,519.4 461.6,524.8 468.0,528.0 474.3,529.7 480.7,530.7 487.0,531.3 493.4,531.7 499.8,531.9 506.1,532.1 512.5,532.2 518.8,532.4 525.2,532.6 531.6,532.7 537.9,532.9 544.0,533.0" class="e"/><path d="M307.0,516.5 309.0,517.5 315.3,515.6 321.7,512.3 328.0,509.3 334.4,505.6 340.8,501.6 347.1,495.5 353.5,485.3 359.8,471.8 366.2,449.5 372.6,420.3 378.9,389.2 385.3,358.0 391.6,334.0 398.0,323.8 404.4,331.1 410.7,353.5 417.1,384.9 423.4,421.1 429.8,452.2 436.2,477.5 442.5,497.8 448.9,511.7 455.2,520.5 461.6,525.6 468.0,528.1 474.3,530.7 480.7,530.5 487.0,529.8 493.4,531.8 499.8,530.7 506.1,531.8 512.5,533.3 518.8,532.6 525.2,533.4 531.6,532.0 537.9,533.9 544.0,531.8" class="d"/><path d="M169.0,570.6 175.4,570.6 181.8,570.6 188.1,570.4 194.5,570.1 200.8,569.6 207.2,568.7 213.6,567.6 219.9,566.2 226.3,564.7 232.6,563.2 239.0,561.9 245.4,561.1 251.7,560.9 258.1,561.3 264.4,562.3 270.8,563.8 277.2,565.6 283.5,567.4 289.9,569.1 296.2,570.5 302.6,571.6" class="c"/><path d="M54.6,568.2 60.9,568.2 67.3,568.2 73.6,567.9 80.0,567.3 86.4,566.4 92.7,564.9 99.1,562.7 105.4,560.0 111.8,556.7 118.2,553.3 124.5,550.2 130.9,547.8 137.2,546.6 143.6,546.9 150.0,548.5 156.3,551.3 162.7,554.7 169.0,558.4 175.4,561.8 181.8,564.8 188.1,567.1 194.5,568.8 200.8,570.0 207.2,570.7 213.6,571.2 219.9,571.5 226.3,571.8" class="c"/><path d="M118.2,569.5 124.5,569.6 130.9,569.6 137.2,569.5 143.6,569.3 150.0,569.1 156.3,568.8 162.7,568.4 169.0,568.1 175.4,567.9 181.8,567.9 188.1,568.1 194.5,568.5 200.8,569.1 207.2,569.7 213.6,570.3 219.9,570.8 226.3,571.3 232.6,571.6 239.0,571.9 245.4,572.1" class="c"/><path d="M35.5,567.9 41.8,568.0 48.2,568.2 54.6,568.3 60.9,568.4 67.3,568.6 73.6,568.7 80.0,568.8 86.4,568.9 92.7,569.1 99.1,569.2 105.4,569.3 111.8,569.5 118.2,569.6 124.5,569.7 130.9,569.9 137.2,570.0 143.6,570.1 150.0,570.3 156.3,570.4 162.7,570.5 169.0,570.7 175.4,570.8 181.8,570.9 188.1,571.0 194.5,571.2 200.8,571.3 207.2,571.4 213.6,571.6 219.9,571.7 226.3,571.8 232.6,572.0 239.0,572.1 245.4,572.2 251.7,572.4 258.1,572.5 264.4,572.6 270.8,572.8 277.2,572.9 283.5,573.0 289.9,573.1 296.2,573.3 302.6,573.4 307.0,573.5" class="b"/><path d="M35.5,567.9 41.8,568.0 48.2,568.1 54.6,568.2 60.9,568.2 67.3,568.1 73.6,567.8 80.0,567.2 86.4,566.2 92.7,564.6 99.1,562.4 105.4,559.5 111.8,556.0 118.2,552.4 124.5,548.9 130.9,546.1 137.2,544.4 143.6,544.1 150.0,545.0 156.3,547.0 162.7,549.8 169.0,552.8 175.4,555.8 181.8,558.5 188.1,560.7 194.5,562.4 200.8,563.5 207.2,564.0 213.6,564.0 219.9,563.5 226.3,562.7 232.6,561.8 239.0,560.9 245.4,560.4 251.7,560.3 258.1,560.9 264.4,562.1 270.8,563.7 277.2,565.5 283.5,567.3 289.9,569.0 296.2,570.5 302.6,571.6 307.0,572.2" class="e"/><path d="M35.5,566.7 41.8,569.4 48.2,566.5 54.6,564.9 60.9,568.8 67.3,566.0 73.6,569.1 80.0,566.7 86.4,567.4 92.7,563.6 99.1,563.6 105.4,561.3 111.8,555.2 118.2,547.6 124.5,549.3 130.9,544.4 137.2,544.2 143.6,544.3 150.0,543.7 156.3,543.6 162.7,550.7 169.0,551.6 175.4,555.1 181.8,559.5 188.1,557.3 194.5,558.3 200.8,564.1 207.2,560.4 213.6,563.9 219.9,563.7 226.3,559.6 232.6,561.3 239.0,560.2 245.4,557.2 251.7,557.6 258.1,559.1 264.4,563.1 270.8,564.8 277.2,563.1 283.5,568.0 289.9,568.7 296.2,571.2 302.6,571.7 307.0,573.1" class="d"/><path d="M307.0,572.1 309.0,571.9 315.3,570.7 321.7,569.1 328.0,567.5 334.4,566.2 340.8,565.9 347.1,567.0 353.5,569.5 359.8,572.3 366.2,574.3 372.6,575.7 378.9,576.6" class="c"/><path d="M307.0,573.5 309.0,573.5 315.3,573.7 321.7,573.8 328.0,574.0 334.4,574.2 340.8,574.4 347.1,557.2 353.5,545.6 359.8,528.3 366.2,504.7 372.6,475.1 378.9,441.9 385.3,410.2 391.6,386.3 398.0,376.5 404.4,383.7 410.7,406.1 417.1,438.1 423.4,472.9 429.8,505.1 436.2,531.4 442.5,551.1 448.9,564.7 455.2,573.6 461.6,579.0 468.0,582.2 474.3,584.3 480.7,585.8 487.0,586.0 493.4,586.1 499.8,586.3 506.1,586.4 512.5,586.6 518.8,586.7 525.2,586.9 531.6,587.0 537.9,587.2 544.0,587.3" class="c"/><path d="M307.0,573.5 309.0,573.5 315.3,573.7 321.7,573.8 328.0,574.0 334.4,574.2 340.8,574.4 347.1,574.6 353.5,574.8 359.8,575.1 366.2,575.5 372.6,576.1 378.9,576.7 385.3,577.6 391.6,578.5 398.0,579.6 404.4,580.7 410.7,581.7 417.1,582.5 423.4,583.3 429.8,583.9 436.2,584.3 442.5,584.7 448.9,584.9 455.2,585.1 461.6,585.3 468.0,585.5 474.3,585.7 480.7,585.8 487.0,586.0 493.4,586.1 499.8,586.3 506.1,586.4 512.5,586.6 518.8,586.7 525.2,586.9 531.6,587.0 537.9,587.2 544.0,587.3" class="b"/><path d="M307.0,571.3 309.0,571.0 315.3,569.7 321.7,567.6 328.0,564.7 334.4,560.9 340.8,556.1 347.1,549.6 353.5,540.3 359.8,525.5 366.2,503.5 372.6,474.7 378.9,441.8 385.3,410.1 391.6,386.3 398.0,376.5 404.4,383.7 410.7,406.1 417.1,438.1 423.4,472.9 429.8,505.1 436.2,531.4 442.5,551.1 448.9,564.7 455.2,573.6 461.6,579.0 468.0,582.2 474.3,584.0 480.7,585.1 487.0,585.6 493.4,586.0 499.8,586.2 506.1,586.4 512.5,586.6 518.8,586.7 525.2,586.9 531.6,587.0 537.9,587.2 544.0,587.3" class="e"/><path d="M307.0,570.0 309.0,571.8 315.3,569.8 321.7,567.8 328.0,563.7 334.4,562.1 340.8,556.1 347.1,549.8 353.5,539.9 359.8,525.1 366.2,503.9 372.6,474.5 378.9,442.1 385.3,409.8 391.6,386.4 398.0,377.0 404.4,383.8 410.7,405.8 417.1,436.3 423.4,473.3 429.8,504.8 436.2,530.2 442.5,552.7 448.9,566.1 455.2,574.7 461.6,579.1 468.0,580.0 474.3,583.7 480.7,584.0 487.0,585.8 493.4,588.2 499.8,588.3 506.1,585.5 512.5,586.4 518.8,587.9 525.2,585.9 531.6,588.4 537.9,586.1 544.0,586.0" class="d"/><path d="M169.0,624.9 175.4,624.9 181.8,624.9 188.1,624.8 194.5,624.6 200.8,624.2 207.2,623.7 213.6,623.0 219.9,622.3 226.3,621.6 232.6,621.0 239.0,620.7 245.4,620.6 251.7,621.0 258.1,621.6 264.4,622.5 270.8,623.5 277.2,624.5 283.5,625.4 289.9,626.2 296.2,626.9 302.6,627.4" class="c"/><path d="M54.6,622.3 60.9,622.4 67.3,622.3 73.6,622.0 80.0,621.5 86.4,620.5 92.7,618.9 99.1,616.7 105.4,613.8 111.8,610.4 118.2,606.9 124.5,603.6 130.9,601.1 137.2,599.9 143.6,600.1 150.0,601.8 156.3,604.7 162.7,608.3 169.0,612.2 175.4,615.8 181.8,618.8 188.1,621.3 194.5,623.0 200.8,624.2 207.2,625.0 213.6,625.6 219.9,625.9 226.3,626.1" class="c"/><path d="M35.5,622.0 41.8,622.1 48.2,622.3 54.6,622.4 60.9,622.6 67.3,622.7 73.6,622.8 80.0,623.0 86.4,623.1 92.7,623.3 99.1,623.4 105.4,623.5 111.8,623.7 118.2,623.8 124.5,624.0 130.9,624.1 137.2,624.2 143.6,624.4 150.0,624.5 156.3,624.7 162.7,624.8 169.0,625.0 175.4,625.1 181.8,625.2 188.1,625.4 194.5,625.5 200.8,625.7 207.2,625.8 213.6,625.9 219.9,626.1 226.3,626.2 232.6,626.4 239.0,626.5 245.4,626.6 251.7,626.8 258.1,626.9 264.4,627.1 270.8,627.2 277.2,627.3 283.5,627.5 289.9,627.6 296.2,627.8 302.6,627.9 307.0,628.0" class="b"/><path d="M35.5,622.0 41.8,622.1 48.2,622.2 54.6,622.3 60.9,622.3 67.3,622.3 73.6,622.0 80.0,621.4 86.4,620.3 92.7,618.7 99.1,616.4 105.4,613.5 111.8,610.0 118.2,606.3 124.5,602.8 130.9,600.2 137.2,598.8 143.6,598.8 150.0,600.3 156.3,603.0 162.7,606.4 169.0,610.1 175.4,613.6 181.8,616.5 188.1,618.7 194.5,620.2 200.8,621.1 207.2,621.4 213.6,621.3 219.9,621.0 226.3,620.6 232.6,620.2 239.0,620.1 245.4,620.2 251.7,620.7 258.1,621.4 264.4,622.3 270.8,623.4 277.2,624.4 283.5,625.4 289.9,626.2 296.2,626.8 302.6,627.3 307.0,627.6" class="e"/><path d="M35.5,622.5 41.8,622.8 48.2,620.6 54.6,623.0 60.9,620.7 67.3,623.0 73.6,620.4 80.0,621.2 86.4,620.6 92.7,619.3 99.1,616.0 105.4,614.7 111.8,610.1 118.2,606.5 124.5,601.5 130.9,601.0 137.2,595.4 143.6,599.0 150.0,601.0 156.3,600.3 162.7,603.2 169.0,610.2 175.4,614.2 181.8,616.5 188.1,619.2 194.5,620.5 200.8,618.1 207.2,620.6 213.6,621.0 219.9,620.3 226.3,620.6 232.6,618.6 239.0,618.4 245.4,620.5 251.7,620.5 258.1,616.7 264.4,621.5 270.8,623.5 277.2,620.4 283.5,625.4 289.9,626.9 296.2,625.5 302.6,627.9 307.0,627.9" class="d"/><path d="M307.0,626.6 309.0,626.3 315.3,625.2 321.7,623.6 328.0,621.9 334.4,620.6 340.8,620.2 347.1,621.3 353.5,623.9 359.8,626.5 366.2,628.5 372.6,629.8 378.9,630.7" class="c"/><path d="M307.0,628.0 309.0,628.0 315.3,628.2 321.7,628.3 328.0,628.4 334.4,628.6 340.8,628.7 347.1,611.5 353.5,599.8 359.8,582.4 366.2,558.6 372.6,528.8 378.9,495.5 385.3,463.4 391.6,439.3 398.0,429.3 404.4,436.4 410.7,458.8 417.1,490.8 423.4,525.6 429.8,557.7 436.2,584.1 442.5,603.8 448.9,617.5 455.2,626.4 461.6,631.8 468.0,635.0 474.3,637.1 480.7,638.5 487.0,638.7 493.4,638.8 499.8,638.9 506.1,639.0 512.5,639.2 518.8,639.3 525.2,639.4 531.6,639.6 537.9,639.7 544.0,639.8" class="c"/><path d="M307.0,628.0 309.0,628.0 315.3,628.2 321.7,628.3 328.0,628.4 334.4,628.6 340.8,628.7 347.1,628.9 353.5,629.1 359.8,629.4 366.2,629.7 372.6,630.2 378.9,630.8 385.3,631.5 391.6,632.3 398.0,633.2 404.4,634.1 410.7,635.0 417.1,635.7 423.4,636.4 429.8,636.9 436.2,637.2 442.5,637.5 448.9,637.8 455.2,638.0 461.6,638.1 468.0,638.3 474.3,638.4 480.7,638.5 487.0,638.7 493.4,638.8 499.8,638.9 506.1,639.0 512.5,639.2 518.8,639.3 525.2,639.4 531.6,639.6 537.9,639.7 544.0,639.8" class="b"/><path d="M307.0,626.2 309.0,625.9 315.3,624.5 321.7,622.2 328.0,619.2 334.4,615.4 340.8,610.4 347.1,603.9 353.5,594.5 359.8,579.6 366.2,557.4 372.6,528.4 378.9,495.4 385.3,463.4 391.6,439.3 398.0,429.3 404.4,436.4 410.7,458.8 417.1,490.8 423.4,525.6 429.8,557.7 436.2,584.1 442.5,603.8 448.9,617.5 455.2,626.4 461.6,631.8 468.0,635.0 474.3,636.8 480.7,637.8 487.0,638.3 493.4,638.6 499.8,638.9 506.1,639.0 512.5,639.2 518.8,639.3 525.2,639.4 531.6,639.6 537.9,639.7 544.0,639.8" class="e"/><path d="M307.0,626.0 309.0,626.0 315.3,625.1 321.7,622.6 328.0,619.7 334.4,614.4 340.8,611.0 347.1,604.4 353.5,592.9 359.8,580.0 366.2,556.2 372.6,527.4 378.9,495.5 385.3,464.5 391.6,439.0 398.0,428.8 404.4,435.6 410.7,458.7 417.1,489.8 423.4,524.5 429.8,558.6 436.2,583.0 442.5,603.7 448.9,617.9 455.2,626.6 461.6,630.1 468.0,634.1 474.3,638.4 480.7,637.7 487.0,638.4 493.4,638.8 499.8,639.3 506.1,640.3 512.5,638.4 518.8,640.1 525.2,639.8 531.6,640.1 537.9,640.3 544.0,639.1" class="d"/><path d="M54.6,677.0 60.9,677.0 67.3,676.9 73.6,676.6 80.0,676.0 86.4,674.8 92.7,673.1 99.1,670.6 105.4,667.4 111.8,663.7 118.2,659.8 124.5,656.2 130.9,653.4 137.2,652.0 143.6,652.3 150.0,654.1 156.3,657.3 162.7,661.2 169.0,665.5 175.4,669.4 181.8,672.8 188.1,675.4 194.5,677.4 200.8,678.7 207.2,679.5 213.6,680.1 219.9,680.4 226.3,680.7" class="c"/><path d="M35.5,676.7 41.8,676.8 48.2,677.0 54.6,677.1 60.9,677.2 67.3,677.4 73.6,677.5 80.0,677.7 86.4,677.8 92.7,677.9 99.1,678.1 105.4,678.2 111.8,678.3 118.2,678.5 124.5,678.6 130.9,678.7 137.2,678.9 143.6,679.0 150.0,679.1 156.3,679.3 162.7,679.4 169.0,679.6 175.4,679.7 181.8,679.8 188.1,680.0 194.5,680.1 200.8,680.2 207.2,680.4 213.6,680.5 219.9,680.6 226.3,680.8 232.6,680.9 239.0,681.0 245.4,681.2 251.7,681.3 258.1,681.5 264.4,681.6 270.8,681.7 277.2,681.9 283.5,682.0 289.9,682.1 296.2,682.3 302.6,682.4 307.0,682.5" class="b"/><path d="M35.5,676.7 41.8,676.8 48.2,676.9 54.6,677.0 60.9,677.0 67.3,676.9 73.6,676.6 80.0,675.9 86.4,674.8 92.7,673.0 99.1,670.4 105.4,667.2 111.8,663.4 118.2,659.3 124.5,655.6 130.9,652.7 137.2,651.2 143.6,651.3 150.0,653.0 156.3,656.0 162.7,659.9 169.0,664.0 175.4,667.9 181.8,671.3 188.1,674.0 194.5,676.0 200.8,677.4 207.2,678.4 213.6,679.1 219.9,679.6 226.3,680.0 232.6,680.3 239.0,680.6 245.4,680.9 251.7,681.1 258.1,681.3 264.4,681.5 270.8,681.6 277.2,681.8 283.5,682.0 289.9,682.1 296.2,682.3 302.6,682.4 307.0,682.5" class="e"/><path d="M35.5,676.0 41.8,677.2 48.2,677.5 54.6,677.3 60.9,675.3 67.3,676.7 73.6,676.2 80.0,676.1 86.4,674.9 92.7,672.6 99.1,671.6 105.4,664.3 111.8,663.8 118.2,659.7 124.5,653.2 130.9,652.3 137.2,651.1 143.6,651.6 150.0,653.9 156.3,655.7 162.7,657.7 169.0,664.5 175.4,665.5 181.8,672.0 188.1,674.4 194.5,675.1 200.8,677.4 207.2,677.2 213.6,679.6 219.9,680.2 226.3,681.1 232.6,681.1 239.0,681.3 245.4,681.7 251.7,680.5 258.1,681.7 264.4,682.7 270.8,677.2 277.2,682.3 283.5,682.7 289.9,679.9 296.2,680.2 302.6,683.1 307.0,683.4" class="d"/><path d="M307.0,681.1 309.0,680.8 315.3,679.6 321.7,678.0 328.0,676.3 334.4,675.0 340.8,674.6 347.1,675.6 353.5,678.1 359.8,680.8 366.2,682.7 372.6,683.9 378.9,684.8" class="c"/><path d="M307.0,682.5 309.0,682.5 315.3,682.6 321.7,682.7 328.0,682.8 334.4,682.9 340.8,683.1 347.1,665.9 353.5,654.2 359.8,636.9 366.2,613.1 372.6,583.4 378.9,550.2 385.3,518.2 391.6,494.2 398.0,484.2 404.4,491.1 410.7,513.3 417.1,545.1 423.4,579.7 429.8,611.7 436.2,637.9 442.5,657.5 448.9,671.0 455.2,679.8 461.6,685.2 468.0,688.4 474.3,690.4 480.7,691.8 487.0,691.9 493.4,692.0 499.8,692.1 506.1,692.2 512.5,692.3 518.8,692.4 525.2,692.5 531.6,692.6 537.9,692.7 544.0,692.8" class="c"/><path d="M307.0,682.5 309.0,682.5 315.3,682.6 321.7,682.7 328.0,682.8 334.4,682.9 340.8,683.1 347.1,683.2 353.5,683.4 359.8,683.6 366.2,683.9 372.6,684.3 378.9,684.9 385.3,685.5 391.6,686.3 398.0,687.1 404.4,687.9 410.7,688.7 417.1,689.4 423.4,690.0 429.8,690.4 436.2,690.8 442.5,691.0 448.9,691.2 455.2,691.4 461.6,691.5 468.0,691.6 474.3,691.7 480.7,691.8 487.0,691.9 493.4,692.0 499.8,692.1 506.1,692.2 512.5,692.3 518.8,692.4 525.2,692.5 531.6,692.6 537.9,692.7 544.0,692.8" class="b"/><path d="M307.0,680.9 309.0,680.6 315.3,679.0 321.7,676.7 328.0,673.6 334.4,669.8 340.8,664.8 347.1,658.3 353.5,648.9 359.8,634.0 366.2,611.9 372.6,583.0 378.9,550.1 385.3,518.2 391.6,494.2 398.0,484.2 404.4,491.1 410.7,513.3 417.1,545.1 423.4,579.7 429.8,611.7 436.2,637.9 442.5,657.5 448.9,671.0 455.2,679.8 461.6,685.2 468.0,688.4 474.3,690.1 480.7,691.1 487.0,691.6 493.4,691.9 499.8,692.1 506.1,692.2 512.5,692.3 518.8,692.4 525.2,692.5 531.6,692.6 537.9,692.7 544.0,692.8" class="e"/><path d="M307.0,681.7 309.0,679.7 315.3,679.3 321.7,677.3 328.0,673.6 334.4,668.8 340.8,665.9 347.1,658.6 353.5,650.0 359.8,632.3 366.2,610.5 372.6,582.3 378.9,550.2 385.3,517.7 391.6,495.8 398.0,483.9 404.4,492.2 410.7,514.4 417.1,545.7 423.4,580.0 429.8,611.2 436.2,637.3 442.5,657.3 448.9,671.8 455.2,679.2 461.6,685.3 468.0,687.3 474.3,690.9 480.7,693.6 487.0,692.0 493.4,689.9 499.8,691.6 506.1,692.4 512.5,691.5 518.8,692.0 525.2,692.1 531.6,693.1 537.9,692.6 544.0,692.6" class="d"/></g>
<line x1="307" y1="36" x2="307" y2="694" stroke="#000" stroke-width="2"/>
<path d="M34.5,2 V696 M33,3.2 H547 M545.3,2 V696.5 M33,694.7 H547" fill="none" stroke="#101a40" stroke-width="2.6"/>
<g style="mix-blend-mode:difference"><line x1="142.3" y1="132.7" x2="142.3" y2="696" class="dash"/><line x1="184.7" y1="132.7" x2="184.7" y2="696" class="dash"/><line x1="256.1" y1="132.7" x2="256.1" y2="696" class="dash"/><line x1="340.5" y1="132.7" x2="340.5" y2="696" class="dash"/></g>
<g opacity="0.55"><line x1="142.3" y1="132.7" x2="142.3" y2="696" class="dash2"/><line x1="184.7" y1="132.7" x2="184.7" y2="696" class="dash2"/><line x1="256.1" y1="132.7" x2="256.1" y2="696" class="dash2"/><line x1="340.5" y1="132.7" x2="340.5" y2="696" class="dash2"/></g>
<path d="M36.1,4 V132" stroke="#000" stroke-width="1.2"/>
<path d="M34.5,2 V696 M545.5,2 V696.5" fill="none" stroke="#101a40" stroke-width="3"/>
<path d="M543.5,4.5 V693.5" stroke="#333" stroke-width="1"/>
<line x1="34.7" y1="694" x2="34.7" y2="699.5" class="tk"/><line x1="77.1" y1="694" x2="77.1" y2="699.5" class="tk"/><line x1="119.5" y1="694" x2="119.5" y2="701.5" class="tk"/><line x1="162.0" y1="694" x2="162.0" y2="699.5" class="tk"/><line x1="204.4" y1="694" x2="204.4" y2="699.5" class="tk"/><line x1="246.8" y1="694" x2="246.8" y2="701.5" class="tk"/><line x1="289.2" y1="694" x2="289.2" y2="699.5" class="tk"/><line x1="331.6" y1="694" x2="331.6" y2="699.5" class="tk"/><line x1="374.0" y1="694" x2="374.0" y2="701.5" class="tk"/><line x1="416.5" y1="694" x2="416.5" y2="699.5" class="tk"/><line x1="458.9" y1="694" x2="458.9" y2="699.5" class="tk"/><line x1="501.3" y1="694" x2="501.3" y2="701.5" class="tk"/><line x1="543.7" y1="694" x2="543.7" y2="699.5" class="tk"/>
<rect x="35.5" y="4.5" width="99" height="43.5" fill="#fff" stroke="#111" stroke-width="1.4"/>
<ellipse cx="57.35" cy="26.45" rx="8.40" ry="7.70" fill="none" stroke="#000" stroke-width="3.9"/><path d="M83.0,17.0 L86.9,17.0 L86.9,36.1 L83.2,36.1 L83.2,21.6 L80.4,24.0 L79.1,21.2 Z" fill="#000"/><text transform="translate(91.70,35.6) scale(0.7029,1)" style="font-size:28px;font-weight:bold" fill="#000" stroke="#000" stroke-width="0.9">s</text><text transform="translate(266.80,50.5) scale(1.0400,1)" style="font-size:23px;font-weight:bold" fill="#000" >x2</text><path d="M130.57,115.04 A6.95,6.95 0 1 0 130.57,122.16" fill="none" stroke="#c41e24" stroke-width="3.1"/><ellipse cx="145.00" cy="118.60" rx="7.65" ry="6.95" fill="none" stroke="#c41e24" stroke-width="3.1"/><path d="M183.99,114.99 A6.60,6.60 0 1 0 183.99,121.51" fill="none" stroke="#101850" stroke-width="3.7"/><ellipse cx="198.00" cy="118.25" rx="7.05" ry="6.60" fill="none" stroke="#101850" stroke-width="3.7"/><text transform="translate(207.50,131.3) scale(1.0625,1)" style="font-size:14.5px;font-weight:bold" fill="#101850" >2</text><rect x="238.8" y="110.3" width="3.1" height="16.10000000000001" fill="#1f5a4e"/><rect x="247.9" y="110.3" width="3.1" height="16.10000000000001" fill="#1f5a4e"/><rect x="238.8" y="116.50" width="12.199999999999989" height="3.1" fill="#1f5a4e"/><ellipse cx="273.35" cy="118.40" rx="7.15" ry="7.00" fill="none" stroke="#1f5a4e" stroke-width="3.2"/><text transform="translate(254.30,131.3) scale(0.9625,1)" style="font-size:14.5px;font-weight:bold" fill="#1f5a4e" >2</text><ellipse cx="334.80" cy="118.45" rx="7.80" ry="7.05" fill="none" stroke="#7a5410" stroke-width="3.0"/><rect x="346.6" y="110.3" width="2.9" height="16.299999999999997" fill="#7a5410"/><rect x="355.8" y="110.3" width="2.9" height="16.299999999999997" fill="#7a5410"/><rect x="346.6" y="116.70" width="12.099999999999966" height="2.9" fill="#7a5410"/><text class="thin" transform="translate(558.23,123.6) scale(1.0698,1)" style="font-size:24px;font-weight:normal" fill="#000" >Time after</text><text class="thin" transform="translate(558.16,166.5) scale(1.1422,1)" style="font-size:24px;font-weight:normal" fill="#000" >annealing</text><text class="thin" transform="translate(683.08,217.6) scale(1.0841,1)" style="font-size:23px" text-anchor="end">45 - 50 min</text><text class="thin" transform="translate(683.08,270.1) scale(1.0841,1)" style="font-size:23px" text-anchor="end">40 - 45 min</text><text class="thin" transform="translate(683.08,324.0) scale(1.0841,1)" style="font-size:23px" text-anchor="end">35 - 40 min</text><text class="thin" transform="translate(683.08,376.9) scale(1.0841,1)" style="font-size:23px" text-anchor="end">30 - 35 min</text><text class="thin" transform="translate(683.08,428.7) scale(1.0841,1)" style="font-size:23px" text-anchor="end">25 - 30 min</text><text class="thin" transform="translate(683.08,481.6) scale(1.0841,1)" style="font-size:23px" text-anchor="end">20 - 25 min</text><text class="thin" transform="translate(683.08,536.0) scale(1.0841,1)" style="font-size:23px" text-anchor="end">15 - 20 min</text><text class="thin" transform="translate(683.08,588.2) scale(1.0841,1)" style="font-size:23px" text-anchor="end">10 - 15 min</text><text class="thin" transform="translate(683.08,640.8) scale(1.0841,1)" style="font-size:23px" text-anchor="end">5 - 10 min</text><text class="thin" transform="translate(683.08,693.7) scale(1.0841,1)" style="font-size:23px" text-anchor="end">0 -&#160;&#160; 5 min</text><text class="thin" transform="translate(108.15,728.9) scale(1.0514,1)" style="font-size:23.5px;font-weight:normal" fill="#000" >537</text><text class="thin" transform="translate(229.55,728.9) scale(1.0514,1)" style="font-size:23.5px;font-weight:normal" fill="#000" >534</text><text class="thin" transform="translate(352.25,728.9) scale(1.0514,1)" style="font-size:23.5px;font-weight:normal" fill="#000" >531</text><text class="thin" transform="translate(474.85,728.9) scale(1.0514,1)" style="font-size:23.5px;font-weight:normal" fill="#000" >528</text><text class="thin" transform="translate(138.68,757.3) scale(1.1619,1)" style="font-size:22px;font-weight:normal" fill="#000" >Binding Energy (eV)</text><text class="thin" transform="translate(20.2,438.69) rotate(-90) scale(1.0884,1)" style="font-size:24px">Counts (arb. u.)</text>
</svg></body></html>
